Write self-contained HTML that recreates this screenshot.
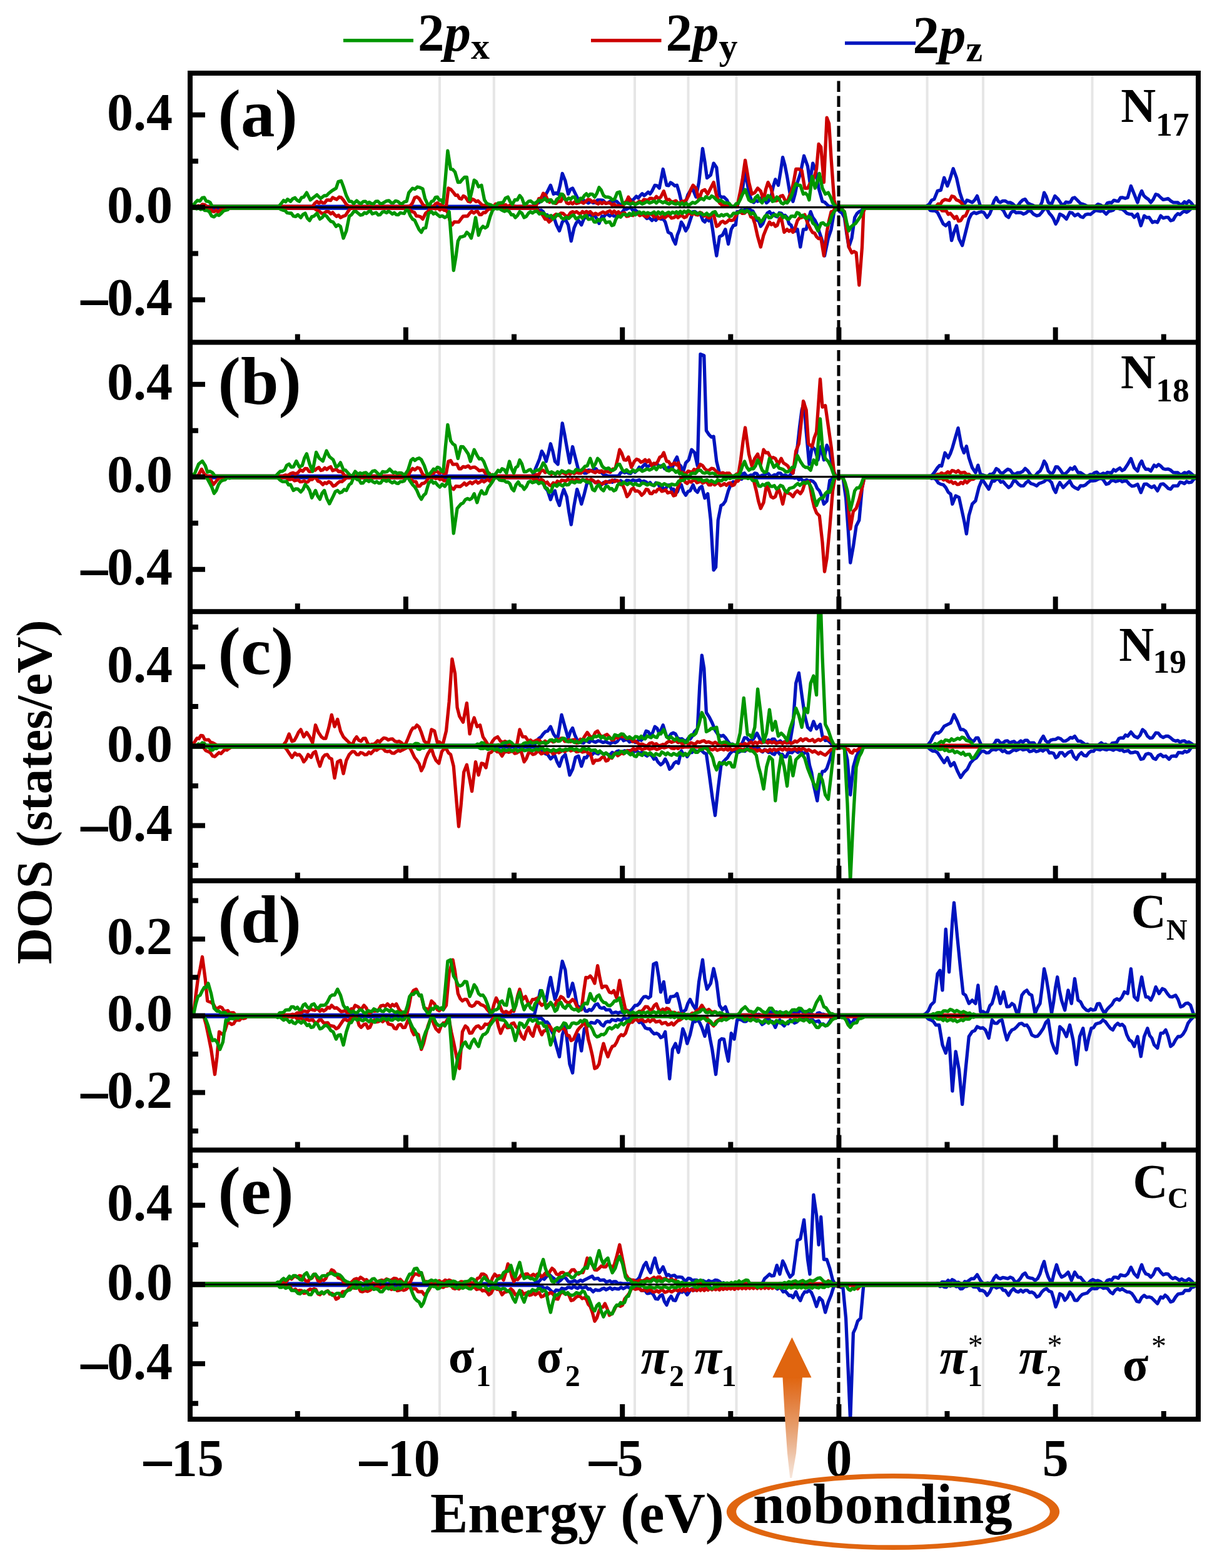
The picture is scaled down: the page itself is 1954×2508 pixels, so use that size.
<!DOCTYPE html><html><head><meta charset="utf-8"><style>html,body{margin:0;padding:0;background:#fff}svg{display:block}text{font-family:"Liberation Serif",serif;font-weight:bold}</style></head><body>
<svg width="1954" height="2508" viewBox="0 0 1954 2508">
<rect width="100%" height="100%" fill="#fff"/>
<defs><clipPath id="clp0"><rect x="304" y="117" width="1612" height="430.6"/></clipPath><clipPath id="clp1"><rect x="304" y="547.6" width="1612" height="430.6"/></clipPath><clipPath id="clp2"><rect x="304" y="978.2" width="1612" height="430.5999999999999"/></clipPath><clipPath id="clp3"><rect x="304" y="1408.8" width="1612" height="430.60000000000014"/></clipPath><clipPath id="clp4"><rect x="304" y="1839.4" width="1612" height="430.5999999999999"/></clipPath></defs>
<line x1="703" y1="117" x2="703" y2="2270" stroke="#e6e6e6" stroke-width="4"/>
<line x1="789.8" y1="117" x2="789.8" y2="2270" stroke="#e6e6e6" stroke-width="4"/>
<line x1="1015" y1="117" x2="1015" y2="2270" stroke="#e6e6e6" stroke-width="4"/>
<line x1="1100.5" y1="117" x2="1100.5" y2="2270" stroke="#e6e6e6" stroke-width="4"/>
<line x1="1177.5" y1="117" x2="1177.5" y2="2270" stroke="#e6e6e6" stroke-width="4"/>
<line x1="1482.6" y1="117" x2="1482.6" y2="2270" stroke="#e6e6e6" stroke-width="4"/>
<line x1="1572" y1="117" x2="1572" y2="2270" stroke="#e6e6e6" stroke-width="4"/>
<line x1="1746.5" y1="117" x2="1746.5" y2="2270" stroke="#e6e6e6" stroke-width="4"/>
<g clip-path="url(#clp0)">
<path d="M308.0,333.0 312.0,333.0 683.0,333.0 687.0,333.0 690.0,333.0 694.0,333.0 850.5,333.0 854.5,333.0 858.0,332.2 861.6,336.8 865.1,336.0 868.6,338.6 871.7,344.1 874.9,343.6 878.0,348.0 881.5,348.7 885.1,345.7 889.8,359.8 894.5,369.2 899.2,355.1 903.9,350.4 908.6,359.8 913.3,385.6 918.0,364.5 921.5,356.5 925.0,352.7 929.7,359.8 934.4,348.0 937.6,348.2 940.7,343.5 943.8,343.3 947.0,346.4 950.1,343.9 953.2,348.0 957.9,357.4 962.6,345.7 965.8,346.6 968.9,342.1 972.0,343.3 975.2,345.5 978.3,342.7 981.4,345.7 984.9,345.5 988.5,340.2 992.0,342.8 995.5,338.6 998.7,334.4 1001.8,334.8 1004.9,333.0 1008.4,331.7 1012.0,336.8 1015.5,335.7 1019.0,338.6 1022.9,342.6 1026.9,341.4 1030.8,345.7 1034.3,349.5 1037.8,348.0 1042.5,352.7 1045.7,349.2 1048.8,352.4 1051.9,348.0 1056.6,350.4 1060.2,350.1 1063.7,355.1 1068.4,371.5 1073.1,373.9 1076.6,383.6 1080.1,390.3 1083.2,375.7 1086.3,368.0 1089.4,355.1 1092.9,360.7 1096.5,369.2 1100.0,363.3 1103.5,352.7 1108.2,338.6 1111.3,338.5 1114.5,341.5 1117.6,341.0 1120.7,344.2 1123.9,352.4 1127.0,355.1 1130.1,350.0 1133.3,353.2 1136.4,348.0 1139.5,367.1 1142.7,390.1 1145.8,409.1 1150.5,378.6 1155.2,376.2 1159.9,366.8 1164.6,390.3 1169.3,366.8 1172.8,360.6 1176.4,359.8 1178.7,338.6 1181.8,338.6 1185.0,336.0 1188.1,336.3 1191.2,335.5 1194.4,332.4 1197.5,333.0 1200.6,336.5 1203.8,337.6 1206.9,343.3 1210.0,352.1 1213.2,353.4 1216.3,362.1 1219.8,357.8 1223.4,348.0 1226.9,341.0 1230.4,338.6 1233.5,342.6 1236.7,341.3 1239.8,345.7 1242.9,346.7 1246.1,340.5 1249.2,341.0 1252.3,344.9 1255.5,344.4 1258.6,348.0 1261.7,357.9 1264.9,359.9 1268.0,369.2 1271.5,369.8 1275.1,366.8 1279.8,395.0 1284.5,366.8 1289.2,366.8 1292.7,350.4 1296.2,338.6 1299.7,347.9 1303.3,352.7 1306.8,360.0 1310.3,371.5 1315.0,385.6 1318.5,409.1 1324.4,380.9 1329.1,366.8 1333.8,338.6 1338.5,333.0 1342.4,338.3 1346.4,340.8 1350.3,348.0 1353.8,373.5 1357.3,395.0 1362.0,380.9 1366.7,348.0 1370.2,341.8 1373.8,338.6 1377.3,336.9 1380.8,333.0 1384.8,333.0 1476.6,333.0 1480.6,333.0 1484.1,332.3 1487.6,336.7 1491.2,337.2 1495.1,336.8 1499.1,339.8 1504.4,350.4 1508.3,358.2 1512.3,361.0 1517.6,355.7 1521.6,384.7 1525.5,371.5 1529.5,361.0 1533.5,382.1 1538.7,392.7 1544.0,371.5 1549.3,350.4 1553.3,342.6 1557.3,339.8 1561.2,341.5 1565.2,339.8 1569.2,338.7 1573.1,339.8 1578.4,347.7 1582.4,342.4 1586.3,333.0 1596.9,333.0 1600.9,333.5 1604.8,337.2 1608.8,345.1 1612.8,347.7 1616.7,339.9 1620.7,337.2 1624.7,340.3 1628.6,339.8 1632.6,340.1 1636.6,342.4 1640.5,340.8 1644.5,337.2 1648.5,337.8 1652.4,342.4 1657.7,345.1 1661.7,344.2 1665.7,339.8 1669.6,334.4 1673.6,333.0 1677.6,340.9 1681.5,345.1 1684.8,350.4 1688.1,358.3 1691.4,352.5 1694.7,342.4 1700.0,345.1 1705.3,350.4 1710.6,339.8 1714.6,340.7 1718.5,345.1 1723.8,342.4 1727.8,346.4 1731.8,347.7 1735.7,343.3 1739.7,342.4 1743.7,343.0 1747.6,339.8 1751.6,336.6 1755.6,337.2 1759.5,337.9 1763.5,337.2 1768.8,342.4 1772.7,338.2 1776.7,337.2 1780.2,336.1 1783.8,331.9 1787.3,333.0 1790.8,334.2 1794.3,334.6 1797.9,337.2 1801.8,341.2 1805.8,342.4 1809.8,342.7 1813.7,347.7 1819.0,342.4 1824.3,361.0 1829.6,345.1 1833.6,348.1 1837.5,347.7 1842.8,355.7 1846.8,354.2 1850.8,355.7 1856.0,345.1 1860.0,348.9 1864.0,347.7 1867.9,347.7 1871.9,353.0 1875.9,351.8 1879.8,345.1 1883.4,341.8 1886.9,343.2 1890.4,339.8 1893.9,337.8 1897.5,339.5 1901.0,337.2 1905.0,333.3 1908.9,333.0 1911.9,333.0 1912.0,333.0" fill="none" stroke="#0014be" stroke-width="5.3" stroke-linejoin="round"/>
<path d="M308.0,330.2 312.0,330.2 683.0,330.2 687.0,330.2 690.0,330.2 694.0,330.2 848.2,330.2 852.2,330.2 855.7,326.4 859.2,324.5 862.3,323.9 865.5,316.1 868.6,315.1 872.1,312.2 875.7,305.7 880.4,296.3 885.1,310.4 888.6,308.7 892.1,310.4 895.6,296.4 899.2,277.5 903.9,289.3 908.6,310.4 912.1,302.9 915.6,301.0 920.3,310.4 925.0,319.8 928.9,322.3 932.9,320.2 936.8,322.2 940.7,324.9 944.6,322.2 948.5,324.5 952.0,323.8 955.6,319.8 960.3,319.8 964.2,320.4 968.1,324.6 972.0,324.5 975.5,322.1 979.1,324.7 982.6,321.4 986.1,322.2 990.8,326.9 994.0,327.6 997.1,324.5 1000.2,324.5 1003.7,324.6 1007.3,318.5 1010.8,321.4 1014.3,317.5 1017.5,314.0 1020.6,316.8 1023.7,312.8 1026.9,309.7 1030.0,312.8 1033.1,310.4 1036.3,307.3 1039.4,310.1 1042.5,305.7 1047.2,296.3 1050.8,297.0 1054.3,301.0 1060.2,270.5 1066.0,296.3 1069.2,296.9 1072.3,292.0 1075.4,294.0 1079.0,297.3 1082.5,296.3 1085.9,307.4 1089.4,322.2 1092.9,323.7 1096.5,322.2 1100.0,311.4 1103.5,305.7 1108.2,303.4 1112.9,315.1 1117.6,291.6 1123.5,237.6 1127.0,258.7 1130.5,284.6 1136.4,279.9 1141.1,261.1 1145.8,268.1 1150.5,312.8 1154.0,315.4 1157.6,315.1 1162.3,319.8 1167.0,330.2 1178.7,330.2 1182.2,319.8 1185.8,312.8 1191.6,272.8 1197.5,308.1 1202.2,322.2 1205.3,323.9 1208.5,320.3 1211.6,322.2 1215.1,320.2 1218.7,315.1 1222.2,317.6 1225.7,324.5 1229.2,321.3 1232.8,315.1 1236.3,298.8 1239.8,286.9 1244.5,296.3 1248.0,275.5 1251.6,251.7 1255.1,264.3 1258.6,282.2 1263.3,310.4 1268.0,322.2 1271.5,309.6 1275.1,291.6 1279.8,277.5 1285.6,249.3 1291.5,265.8 1295.0,291.6 1299.7,261.1 1304.4,272.8 1309.1,301.0 1315.0,322.2 1318.5,323.2 1322.1,326.9 1325.6,330.1 1329.1,330.2 1336.2,330.2 1340.2,330.2 1476.6,330.2 1480.6,330.2 1485.9,326.6 1489.8,320.2 1493.8,318.6 1499.1,305.4 1504.4,304.1 1509.7,284.3 1514.9,297.5 1518.9,286.9 1524.2,269.7 1529.5,284.3 1534.8,308.1 1540.1,323.9 1543.2,324.9 1546.2,320.1 1549.3,321.3 1554.6,323.9 1558.6,319.9 1562.5,313.4 1567.8,330.2 1575.8,330.2 1586.3,330.2 1589.6,321.2 1593.0,316.0 1596.3,322.1 1599.6,323.9 1603.5,321.3 1607.5,321.3 1611.5,324.1 1615.4,323.9 1619.4,326.1 1623.4,330.2 1627.3,329.5 1631.3,323.9 1635.3,320.0 1639.2,318.6 1643.2,324.5 1647.2,326.6 1651.1,328.2 1655.1,330.2 1663.0,330.2 1666.3,322.8 1669.6,308.1 1672.9,314.0 1676.2,323.9 1681.5,326.6 1686.8,313.4 1692.1,318.6 1697.4,326.6 1700.9,327.6 1704.4,323.2 1708.0,323.9 1711.5,323.4 1715.0,317.1 1718.5,316.0 1723.8,321.3 1727.8,325.5 1731.8,326.6 1735.7,328.3 1739.7,330.2 1747.6,330.2 1751.6,329.9 1755.6,326.6 1759.5,327.7 1763.5,330.2 1767.0,330.3 1770.5,324.8 1774.1,323.9 1777.6,324.3 1781.1,320.3 1784.6,321.3 1788.2,321.8 1791.7,316.2 1795.2,316.0 1799.2,317.3 1803.2,316.0 1808.4,297.5 1813.7,310.7 1819.0,323.9 1822.3,312.8 1825.6,305.4 1828.9,312.8 1832.2,316.0 1836.2,318.7 1840.2,323.9 1844.1,318.9 1848.1,310.7 1852.1,312.1 1856.0,316.0 1860.0,319.4 1864.0,318.6 1867.9,317.6 1871.9,321.3 1875.9,323.8 1879.8,323.9 1883.4,324.0 1886.9,327.3 1890.4,326.6 1893.9,322.8 1897.5,325.2 1901.0,321.3 1905.0,324.7 1908.9,330.2 1911.9,330.2 1912.0,330.2" fill="none" stroke="#0014be" stroke-width="5.3" stroke-linejoin="round"/>
<path d="M308.0,333.0 329.9,333.0 332.9,333.0 336.0,332.3 339.2,337.7 342.3,338.7 345.4,336.1 348.6,338.9 351.7,336.3 354.8,333.1 358.0,334.4 361.1,333.0 365.1,333.0 498.1,333.0 502.1,333.0 506.8,336.3 510.3,337.6 513.9,341.0 517.8,341.4 521.7,338.3 525.6,338.7 528.8,342.0 531.9,339.8 535.0,343.4 538.2,346.2 541.3,344.2 544.4,348.1 549.1,345.7 552.6,344.4 556.2,338.7 559.7,334.0 563.2,333.0 567.2,333.0 648.5,333.0 652.5,333.0 656.1,336.5 659.6,338.7 662.7,339.7 665.8,345.5 669.0,345.7 672.5,346.8 676.0,350.4 680.7,341.0 684.3,338.4 687.8,333.0 690.0,333.0 693.4,333.0 696.7,334.2 700.1,332.7 703.4,335.8 706.8,333.3 710.1,336.4 713.5,336.3 716.6,341.5 719.8,354.6 722.9,359.8 726.4,355.0 730.0,355.1 733.5,355.2 737.0,350.4 740.5,346.0 744.1,345.7 747.6,345.8 751.1,341.0 754.2,338.1 757.4,340.7 760.5,338.6 763.6,338.1 766.8,343.3 769.9,343.3 773.0,339.8 776.2,340.0 779.3,336.3 782.4,333.9 785.6,334.7 788.7,333.0 792.7,333.0 850.5,333.0 854.5,333.0 858.0,332.6 861.6,339.9 865.1,340.2 868.6,345.7 871.7,350.7 874.9,350.5 878.0,355.1 881.5,352.1 885.1,345.7 889.0,342.7 892.9,344.7 896.8,341.0 900.7,341.5 904.6,345.4 908.6,345.7 912.1,340.4 915.6,338.6 918.8,340.3 921.9,338.5 925.0,341.0 928.2,342.2 931.3,338.3 934.4,340.9 937.6,338.2 940.7,340.6 943.8,338.6 948.5,343.3 952.4,341.2 956.4,343.5 960.3,341.0 964.2,339.0 968.1,341.1 972.0,338.6 975.4,337.1 978.7,341.2 982.1,337.5 985.5,341.5 988.8,338.8 992.2,342.6 995.5,341.0 998.7,340.3 1001.8,346.0 1004.9,345.7 1008.4,342.8 1012.0,344.8 1015.5,340.9 1019.0,341.0 1022.9,344.8 1026.9,342.9 1030.8,345.7 1034.7,347.1 1038.6,342.2 1042.5,343.3 1046.1,347.3 1049.6,343.2 1053.1,349.6 1056.6,348.0 1059.8,345.9 1062.9,348.4 1066.0,345.7 1069.9,344.3 1073.9,348.9 1077.8,348.0 1080.9,345.2 1084.0,348.2 1087.1,345.7 1090.6,344.8 1094.1,348.0 1097.2,346.8 1100.4,341.4 1103.5,341.0 1106.6,343.3 1109.8,341.1 1112.9,343.3 1116.0,344.0 1119.2,339.7 1122.3,341.0 1125.4,345.6 1128.6,343.7 1131.7,348.0 1134.8,348.7 1138.0,343.1 1141.1,343.3 1145.8,362.1 1149.3,360.2 1152.9,355.1 1156.0,353.9 1159.1,356.8 1162.3,355.1 1165.8,351.6 1169.3,352.7 1172.8,352.0 1176.4,345.7 1179.9,339.8 1183.4,338.6 1186.9,341.3 1190.5,341.0 1194.0,337.7 1197.5,338.6 1200.6,346.9 1203.8,348.4 1206.9,357.4 1211.6,378.6 1216.3,395.0 1221.0,376.2 1225.7,364.5 1230.4,355.1 1233.5,359.4 1236.7,357.2 1239.8,362.1 1242.9,360.4 1246.1,351.0 1249.2,348.0 1253.9,371.5 1258.6,366.8 1261.7,369.9 1264.9,367.6 1268.0,371.5 1271.5,364.3 1275.1,352.7 1278.6,348.5 1282.1,348.0 1286.8,343.3 1291.5,357.4 1296.2,366.8 1299.3,371.9 1302.5,372.7 1305.6,378.6 1309.1,381.7 1312.7,380.9 1317.4,409.1 1322.1,371.5 1325.6,353.1 1329.1,338.6 1332.3,338.0 1335.4,332.5 1338.5,333.0 1342.4,335.5 1346.4,334.5 1350.3,338.6 1353.8,369.4 1357.3,395.0 1362.0,404.4 1365.5,402.3 1369.1,404.4 1373.8,456.1 1378.5,395.0 1380.8,338.6 1383.2,333.0 1387.2,333.0 1492.4,333.0 1496.4,333.0 1499.7,334.5 1503.1,333.0 1506.4,337.2 1509.7,337.2 1513.0,337.2 1516.3,342.8 1519.6,341.1 1522.9,345.1 1526.2,349.4 1529.5,346.2 1532.8,353.6 1536.1,353.0 1540.1,346.3 1544.0,345.1 1549.3,333.0 1552.3,333.0 1556.3,333.0 1908.0,333.0 1912.0,333.0" fill="none" stroke="#cc0000" stroke-width="5.3" stroke-linejoin="round"/>
<path d="M308.0,330.2 311.1,330.2 314.1,330.2 317.2,329.1 320.4,330.1 323.5,326.9 327.4,327.4 331.3,331.4 335.3,330.2 339.3,330.2 495.8,330.2 499.8,330.2 503.3,325.2 506.8,322.2 509.9,325.1 513.1,322.4 516.2,324.6 519.3,324.4 522.5,320.0 525.6,319.9 528.8,320.6 531.9,315.9 535.0,317.5 538.5,319.0 542.1,315.2 545.6,315.9 549.1,319.9 553.8,326.9 557.8,330.2 648.5,330.2 652.5,330.2 656.1,329.2 659.6,324.6 663.1,316.3 666.6,314.9 670.2,317.5 676.0,326.9 679.2,329.7 682.3,328.8 685.4,330.2 690.0,330.2 693.1,330.3 696.3,326.1 699.4,324.5 702.9,327.3 706.5,327.2 710.0,331.2 713.5,330.2 717.0,301.0 721.1,303.2 725.3,308.1 728.4,312.5 731.5,312.0 734.7,317.5 737.8,318.3 740.9,313.4 744.1,315.1 748.8,322.2 751.9,323.0 755.0,318.4 758.2,319.8 761.3,322.6 764.4,321.3 767.6,324.5 771.5,328.5 775.4,328.4 779.3,330.2 782.6,330.2 785.9,328.9 789.2,330.2 792.5,326.2 795.8,326.9 799.0,328.8 802.2,326.7 805.4,328.9 808.6,327.4 811.8,330.6 815.0,328.5 818.2,331.4 821.4,329.5 824.6,330.2 827.8,330.5 831.0,330.2 854.5,330.2 858.0,327.8 861.6,317.6 865.1,317.5 868.6,309.2 872.1,311.7 875.7,319.8 878.8,323.5 881.9,320.9 885.1,324.5 889.0,325.5 892.9,321.9 896.8,322.2 901.5,312.8 906.2,324.5 909.3,325.8 912.5,323.6 915.6,326.1 918.8,323.0 921.9,325.6 925.0,324.5 928.9,322.8 932.9,325.0 936.8,322.2 940.3,318.9 943.8,319.8 947.0,323.1 950.1,321.2 953.2,324.5 956.4,326.3 959.5,323.2 962.6,325.7 965.8,323.4 968.9,325.6 972.0,324.5 975.4,324.7 978.7,328.0 982.1,326.3 985.5,330.0 988.8,328.7 992.2,330.2 995.5,330.2 998.7,324.7 1001.8,322.0 1004.9,315.1 1009.6,324.5 1012.8,323.5 1015.9,326.2 1019.0,324.5 1022.5,321.8 1026.1,323.7 1029.6,319.2 1033.1,319.8 1036.3,320.4 1039.4,317.2 1042.5,317.5 1046.1,318.9 1049.6,314.3 1053.1,317.9 1056.6,315.1 1061.3,305.7 1066.0,319.8 1069.9,319.0 1073.9,323.3 1077.8,322.2 1080.9,321.1 1084.0,324.9 1087.1,324.5 1090.6,321.8 1094.1,322.2 1097.6,319.5 1101.2,312.8 1104.7,302.9 1108.2,296.3 1112.9,301.0 1117.6,319.8 1122.3,305.7 1127.0,303.4 1131.7,310.4 1136.4,301.0 1141.1,291.6 1145.8,312.8 1150.5,324.5 1154.4,328.1 1158.3,327.8 1162.3,330.2 1178.7,330.2 1183.4,308.1 1187.5,285.0 1191.6,256.4 1197.5,291.6 1202.2,310.4 1206.9,308.1 1211.6,301.0 1216.3,305.7 1221.0,319.8 1224.5,302.9 1228.1,291.6 1232.8,301.0 1237.5,319.8 1241.0,321.2 1244.5,319.8 1248.0,313.9 1251.6,312.8 1255.1,319.9 1258.6,324.5 1262.1,313.8 1265.7,305.7 1269.2,290.2 1272.7,270.5 1277.4,270.5 1282.1,272.8 1286.8,301.0 1291.5,301.0 1295.0,293.5 1298.6,291.6 1302.1,282.5 1305.6,270.5 1309.1,230.5 1312.7,235.2 1317.4,291.6 1322.1,188.2 1325.6,197.6 1329.1,254.0 1333.8,319.8 1336.2,330.2 1340.2,330.2 1492.4,330.2 1496.4,330.2 1500.0,326.2 1503.5,326.8 1507.0,321.3 1511.0,319.2 1514.9,320.0 1518.5,320.6 1522.0,313.8 1525.5,314.7 1529.5,319.8 1533.5,321.3 1537.4,324.6 1541.4,330.2 1544.4,330.2 1548.4,330.2 1908.0,330.2 1912.0,330.2" fill="none" stroke="#cc0000" stroke-width="5.3" stroke-linejoin="round"/>
<path d="M308.0,333.0 311.2,333.0 314.4,334.0 317.7,332.9 320.9,335.1 324.1,333.8 327.3,336.5 330.6,336.3 334.5,338.3 338.4,345.6 342.3,346.9 346.2,343.1 350.1,344.6 354.1,341.0 357.6,337.2 361.1,336.3 364.2,335.4 367.4,332.1 370.5,333.0 374.5,333.0 441.7,333.0 445.7,333.0 449.2,335.0 452.8,336.3 455.9,336.8 459.0,340.4 462.2,341.0 465.7,340.9 469.2,345.7 472.7,346.4 476.3,343.4 481.0,348.1 484.5,343.0 488.0,341.0 491.5,349.2 495.1,352.8 498.6,346.6 502.1,345.7 506.8,341.0 511.5,350.4 515.0,348.1 518.6,343.4 522.1,345.7 525.6,350.4 529.1,354.2 532.7,355.1 537.4,362.2 540.9,359.7 544.4,362.2 549.1,381.0 553.8,369.2 558.5,345.7 562.0,343.5 565.6,338.7 569.1,338.1 572.6,341.0 576.1,344.1 579.7,343.4 582.8,340.1 585.9,341.5 589.1,338.7 592.2,337.3 595.3,342.1 598.5,341.0 601.6,340.1 604.7,343.8 607.9,343.4 611.4,339.1 614.9,338.7 618.1,340.3 621.2,337.9 624.3,339.8 627.5,342.4 630.6,340.3 633.7,343.4 636.9,343.6 640.0,340.4 643.1,341.0 646.3,341.5 649.4,335.9 652.5,336.3 656.1,345.1 659.6,350.4 663.1,352.4 666.6,359.8 670.2,367.4 673.7,371.6 677.2,365.1 680.7,364.5 685.4,341.0 690.0,338.6 693.1,342.2 696.3,340.2 699.4,343.3 703.3,346.4 707.2,345.3 711.2,348.0 714.7,345.9 718.2,338.6 721.7,384.3 725.3,432.6 728.8,411.8 732.3,385.6 735.8,379.2 739.4,378.6 742.9,377.3 746.4,371.5 749.9,374.7 753.5,380.9 757.0,367.2 760.5,348.0 765.2,376.2 768.7,366.2 772.3,362.1 775.8,364.6 779.3,362.1 784.0,345.7 787.5,336.8 791.1,333.0 795.0,334.2 798.9,333.7 802.8,336.3 806.7,338.0 810.6,336.3 814.6,338.6 817.7,343.6 820.8,343.4 824.0,348.0 827.5,344.6 831.0,338.6 834.5,341.0 838.1,348.0 841.6,346.1 845.1,341.0 848.2,338.7 851.4,340.7 854.5,338.6 858.4,337.4 862.3,342.2 866.3,341.0 870.2,341.5 874.1,345.5 878.0,345.7 881.1,344.8 884.3,350.1 887.4,348.0 890.9,343.2 894.5,343.3 898.0,348.6 901.5,350.4 905.4,347.2 909.3,349.6 913.3,345.7 917.2,343.9 921.1,350.0 925.0,348.0 928.2,345.5 931.3,349.1 934.4,345.7 937.6,344.8 940.7,350.9 943.8,350.4 947.0,349.0 950.1,355.1 953.2,355.1 956.4,351.0 959.5,353.3 962.6,350.4 965.8,350.4 968.9,356.3 972.0,355.1 975.2,355.0 978.3,360.8 981.4,359.8 984.9,350.4 988.5,345.7 992.4,347.2 996.3,342.5 1000.2,343.3 1003.4,344.4 1006.5,341.2 1009.6,344.3 1012.8,339.9 1015.9,343.7 1019.0,341.0 1022.4,339.0 1025.7,342.0 1029.1,339.4 1032.5,342.0 1035.8,340.1 1039.2,341.9 1042.5,341.0 1045.9,339.0 1049.2,342.8 1052.6,339.0 1056.0,342.3 1059.3,339.3 1062.7,342.8 1066.0,341.0 1069.2,339.4 1072.3,342.2 1075.4,339.2 1078.5,341.1 1081.6,338.8 1084.8,341.8 1087.9,338.0 1091.0,341.4 1094.1,337.8 1097.3,340.2 1100.4,336.9 1103.5,338.6 1107.0,341.1 1110.6,338.9 1114.1,342.1 1117.6,341.0 1120.7,340.7 1123.9,343.6 1127.0,343.3 1130.1,341.1 1133.3,344.3 1136.4,343.3 1139.9,339.7 1143.5,338.6 1147.0,344.7 1150.5,345.7 1153.6,343.2 1156.8,345.3 1159.9,343.3 1163.0,342.8 1166.2,346.3 1169.3,345.7 1172.8,341.1 1176.4,341.0 1179.9,340.8 1183.4,338.6 1186.9,336.8 1190.5,339.8 1194.0,336.7 1197.5,338.6 1200.6,342.4 1203.8,340.4 1206.9,343.3 1210.0,348.9 1213.2,349.1 1216.3,355.1 1219.8,351.7 1223.4,345.7 1226.5,344.2 1229.6,348.4 1232.8,348.0 1236.3,344.5 1239.8,343.3 1242.9,345.7 1246.1,341.9 1249.2,343.3 1252.3,347.9 1255.5,346.0 1258.6,350.4 1261.7,350.6 1264.9,345.9 1268.0,345.7 1271.1,346.6 1274.3,340.0 1277.4,341.0 1280.5,346.1 1283.7,344.3 1286.8,348.0 1289.9,349.5 1293.1,345.8 1296.2,348.0 1299.7,356.9 1303.3,359.8 1308.0,369.2 1312.7,357.4 1316.2,356.4 1319.7,359.8 1323.2,359.9 1326.8,355.1 1330.3,344.4 1333.8,338.6 1338.5,333.0 1342.4,335.0 1346.4,334.9 1350.3,338.6 1353.8,355.6 1357.3,369.2 1360.8,362.8 1364.4,359.8 1367.9,357.6 1371.4,352.7 1376.1,345.7 1380.8,333.0 1383.8,333.0 1387.8,333.0 1908.0,333.0 1912.0,333.0" fill="none" stroke="#009600" stroke-width="5.3" stroke-linejoin="round"/>
<path d="M308.0,330.2 311.8,324.6 315.7,320.5 319.6,321.6 323.5,316.3 326.6,316.0 329.8,321.8 332.9,322.2 336.0,323.8 339.2,329.9 342.3,330.2 346.3,330.2 441.7,330.2 445.7,330.2 450.4,324.6 453.5,320.6 456.7,322.8 459.8,318.7 464.5,322.2 468.0,318.0 471.6,316.3 475.1,320.4 478.6,322.2 482.1,316.1 485.7,315.2 490.4,308.1 496.2,319.9 502.1,315.2 506.8,311.6 512.7,317.5 518.6,312.8 522.1,313.0 525.6,309.3 531.5,304.6 537.4,301.1 540.9,290.5 545.6,289.3 549.1,298.7 553.8,312.8 558.5,322.2 562.0,322.1 565.6,325.7 570.3,321.0 573.8,324.3 577.3,325.7 580.8,322.5 584.4,322.2 587.5,325.2 590.6,323.4 593.8,325.7 597.3,326.0 600.8,322.2 604.3,322.0 607.9,325.7 611.4,325.4 614.9,323.4 618.4,321.3 622.0,321.0 625.5,324.4 629.0,324.6 632.5,321.3 636.1,322.2 639.6,325.3 643.1,325.7 646.7,322.8 650.2,322.2 653.7,308.1 659.6,301.1 663.5,302.6 667.4,299.0 671.3,299.9 676.0,302.2 679.6,317.5 685.4,330.2 690.0,322.2 693.1,321.3 696.3,315.6 699.4,315.1 702.5,320.2 705.7,319.8 708.8,324.5 712.3,284.4 715.9,241.1 720.6,270.5 724.1,271.2 727.6,275.2 732.3,291.6 735.8,291.3 739.4,286.9 742.9,283.4 746.4,283.4 751.1,319.8 754.6,305.2 758.2,288.1 761.7,290.7 765.2,298.7 769.9,296.3 774.6,319.8 778.1,325.1 781.7,326.9 785.2,327.9 788.7,330.2 792.6,330.2 796.5,325.0 800.5,324.5 804.4,324.0 808.3,316.9 812.2,315.1 815.7,322.7 819.3,326.9 823.2,319.7 827.1,319.9 831.0,312.8 834.5,316.9 838.1,326.9 841.6,325.9 845.1,322.2 848.6,321.4 852.2,324.5 855.7,325.1 859.2,322.2 862.3,320.0 865.5,322.4 868.6,319.8 871.7,317.6 874.9,322.0 878.0,319.8 881.1,319.7 884.3,324.7 887.4,324.5 890.5,318.5 893.7,316.7 896.8,310.4 899.9,310.9 903.1,318.6 906.2,319.8 909.3,316.8 912.5,318.8 915.6,315.1 918.8,315.1 921.9,322.1 925.0,322.2 928.2,317.2 931.3,317.9 934.4,312.8 937.6,309.9 940.7,313.8 943.8,310.4 947.3,310.6 950.9,315.1 954.4,309.4 957.9,299.8 961.4,304.2 965.0,312.8 968.5,315.2 972.0,315.1 975.5,316.2 979.1,319.8 983.0,318.0 986.9,308.2 990.8,306.9 995.5,324.5 998.7,326.3 1001.8,324.1 1004.9,325.7 1008.4,326.6 1012.0,324.4 1015.5,327.5 1019.0,325.7 1022.9,323.6 1026.9,326.3 1030.8,324.5 1034.7,322.3 1038.6,324.8 1042.5,323.3 1046.1,321.5 1049.6,324.8 1053.1,320.9 1056.6,322.2 1059.8,324.4 1062.9,322.5 1066.0,324.5 1069.9,326.3 1073.9,323.4 1077.8,325.7 1081.0,326.6 1084.2,324.4 1087.4,327.7 1090.6,324.6 1093.9,327.9 1097.1,325.0 1100.3,328.0 1103.5,326.9 1107.4,323.7 1111.3,325.1 1115.3,322.2 1118.8,318.7 1122.3,317.5 1125.4,319.6 1128.6,314.7 1131.7,316.3 1134.8,317.4 1138.0,313.5 1141.1,315.1 1145.8,319.8 1148.9,322.2 1152.1,319.9 1155.2,322.2 1158.7,324.6 1162.3,324.5 1166.2,325.5 1170.1,330.7 1174.0,330.2 1177.1,325.8 1180.3,325.3 1183.4,319.8 1187.5,310.3 1191.6,303.4 1197.5,319.8 1201.0,322.3 1204.6,322.2 1208.1,315.9 1211.6,312.8 1215.1,320.9 1218.7,324.5 1221.8,317.8 1224.9,319.3 1228.1,312.8 1231.6,314.8 1235.1,322.2 1238.6,321.2 1242.2,315.1 1245.7,318.2 1249.2,324.5 1252.3,326.2 1255.5,323.0 1258.6,324.5 1262.1,320.0 1265.7,312.8 1269.2,302.1 1272.7,294.0 1276.2,296.4 1279.8,296.3 1284.5,310.4 1288.0,309.0 1291.5,312.8 1293.9,319.8 1298.6,282.2 1303.3,301.0 1306.8,290.9 1310.3,277.5 1315.0,301.0 1319.7,310.4 1324.4,308.1 1327.9,314.9 1331.5,324.5 1336.2,330.2 1340.2,330.2 1381.5,330.2 1385.5,330.2 1388.5,330.2 1392.5,330.2 1908.0,330.2 1912.0,330.2" fill="none" stroke="#009600" stroke-width="5.3" stroke-linejoin="round"/>
</g>
<line x1="304" y1="331.6" x2="1916" y2="331.6" stroke="#000" stroke-width="3.2"/>
<g clip-path="url(#clp1)">
<path d="M308.0,764.1 312.0,764.1 683.0,764.1 687.0,764.1 690.0,764.1 694.0,764.1 850.5,764.1 854.5,764.1 858.0,763.2 861.6,768.7 865.1,767.8 868.6,770.9 872.1,780.3 875.7,785.0 880.4,799.1 883.9,789.7 887.4,785.0 890.9,799.6 894.5,808.5 898.0,793.2 901.5,782.7 906.2,794.4 909.7,818.5 913.3,839.1 918.0,808.5 922.7,782.7 926.2,792.8 929.7,806.2 934.4,789.7 939.1,770.9 942.3,772.0 945.4,768.2 948.5,768.6 951.7,771.9 954.8,771.0 957.9,775.6 961.4,775.7 965.0,771.8 968.5,773.6 972.0,770.9 975.5,769.2 979.1,771.4 982.6,767.9 986.1,768.6 989.3,770.7 992.4,768.8 995.5,770.9 998.7,772.0 1001.8,768.5 1004.9,768.6 1008.4,769.9 1012.0,767.7 1015.5,769.4 1019.0,768.6 1022.5,767.6 1026.1,771.0 1029.6,769.4 1033.1,770.9 1036.3,774.4 1039.4,771.7 1042.5,775.6 1045.7,776.8 1048.8,772.3 1051.9,773.3 1055.1,779.0 1058.2,776.7 1061.3,782.7 1064.5,781.8 1067.6,776.2 1070.7,775.6 1073.9,783.3 1077.0,782.2 1080.1,789.7 1083.2,786.6 1086.3,777.9 1089.4,775.6 1092.9,786.6 1096.5,792.1 1100.0,786.3 1103.5,785.0 1108.2,775.6 1111.7,784.0 1115.3,787.4 1118.8,780.5 1122.3,778.0 1127.0,796.8 1131.7,789.7 1136.4,832.0 1141.1,911.9 1144.6,907.2 1148.2,832.0 1152.9,808.5 1156.4,806.6 1159.9,801.5 1164.6,785.0 1169.3,773.3 1172.4,770.5 1175.6,771.1 1178.7,768.6 1182.2,765.7 1185.8,766.5 1189.3,762.8 1192.8,764.1 1202.2,764.1 1221.0,764.1 1244.5,764.1 1268.0,764.1 1271.1,764.8 1274.3,763.5 1277.4,767.4 1280.5,765.5 1283.7,768.8 1286.8,768.6 1289.9,767.4 1293.1,769.5 1296.2,768.6 1299.7,769.7 1303.3,773.3 1306.8,781.3 1310.3,785.0 1313.8,792.9 1317.4,806.2 1322.1,801.5 1326.8,768.6 1330.3,766.4 1333.8,764.1 1347.9,764.1 1352.6,796.8 1356.1,845.6 1359.7,900.2 1364.4,874.3 1369.1,841.4 1373.8,832.0 1378.5,780.3 1382.0,764.1 1386.0,764.1 1481.9,764.1 1485.9,764.1 1489.4,765.3 1492.9,764.6 1496.4,766.6 1500.4,772.5 1504.4,774.5 1508.3,775.3 1512.3,779.8 1516.3,787.2 1520.2,790.4 1522.9,806.2 1528.2,793.0 1533.5,795.7 1538.7,819.5 1542.1,835.3 1545.4,853.8 1549.3,824.7 1554.6,806.2 1559.9,801.0 1565.2,779.8 1570.5,766.6 1575.8,774.5 1581.1,782.4 1586.3,769.2 1589.9,769.6 1593.4,766.1 1596.9,766.6 1600.4,771.3 1604.0,770.1 1607.5,774.5 1612.8,779.8 1616.7,776.9 1620.7,769.2 1624.7,769.9 1628.6,774.5 1632.6,777.2 1636.6,777.2 1640.5,772.1 1644.5,769.2 1648.5,773.5 1652.4,774.5 1657.7,777.2 1661.7,773.2 1665.7,771.9 1669.6,770.2 1673.6,766.6 1677.6,768.0 1681.5,771.9 1684.8,782.0 1688.1,787.7 1691.4,777.5 1694.7,771.9 1700.0,779.8 1705.3,774.5 1710.6,769.2 1714.6,776.8 1718.5,779.8 1723.8,782.4 1727.8,776.9 1731.8,777.2 1735.7,775.7 1739.7,771.9 1743.7,769.0 1747.6,769.2 1751.6,768.7 1755.6,766.6 1759.5,765.3 1763.5,766.6 1768.8,774.5 1772.7,773.4 1776.7,769.2 1780.2,768.3 1783.8,770.3 1787.3,769.2 1790.8,767.7 1794.3,770.5 1797.9,769.2 1801.8,769.6 1805.8,774.5 1809.8,777.5 1813.7,777.2 1819.0,774.5 1824.3,787.7 1829.6,774.5 1833.6,774.2 1837.5,777.2 1841.5,779.7 1845.5,777.2 1850.8,785.1 1856.0,774.5 1860.0,773.8 1864.0,777.2 1867.9,781.2 1871.9,782.4 1875.9,777.2 1879.8,777.2 1883.4,777.0 1886.9,771.1 1890.4,771.9 1893.9,773.5 1897.5,770.0 1901.0,771.9 1905.0,771.2 1908.9,766.6 1911.9,764.1 1912.0,764.1" fill="none" stroke="#0014be" stroke-width="5.3" stroke-linejoin="round"/>
<path d="M308.0,761.3 312.0,761.3 683.0,761.3 687.0,761.3 690.0,761.3 694.0,761.3 848.2,761.3 852.2,761.3 855.7,751.1 859.2,742.7 862.7,734.2 866.3,721.6 869.8,727.6 873.3,738.0 876.8,725.4 880.4,709.8 883.9,721.8 887.4,738.0 892.1,742.7 895.6,711.1 899.2,676.9 902.7,694.2 906.2,714.5 910.9,740.4 915.6,714.5 920.3,733.3 925.0,752.1 928.2,755.8 931.3,753.2 934.4,756.8 937.6,756.9 940.7,751.9 943.8,752.1 947.0,753.6 950.1,749.3 953.2,749.8 956.4,753.8 959.5,753.3 962.6,756.8 965.8,759.6 968.9,759.9 972.0,761.3 986.1,761.3 989.3,761.0 992.4,756.3 995.5,754.5 998.7,756.3 1001.8,754.8 1004.9,756.8 1008.4,757.4 1012.0,752.4 1015.5,755.4 1019.0,752.1 1022.2,747.3 1025.3,749.5 1028.4,745.1 1031.6,742.2 1034.7,746.5 1037.8,745.1 1041.0,742.9 1044.1,746.2 1047.2,742.7 1050.4,741.2 1053.5,745.9 1056.6,745.1 1059.8,744.8 1062.9,749.9 1066.0,749.8 1069.2,747.2 1072.3,750.0 1075.4,747.4 1079.0,737.3 1082.5,731.0 1085.6,742.2 1088.7,745.5 1091.8,756.8 1096.5,740.4 1101.2,735.7 1105.9,719.2 1110.6,723.9 1115.3,745.1 1120.0,566.5 1125.8,568.8 1129.4,688.7 1134.1,695.7 1137.6,699.1 1141.1,698.1 1145.8,738.0 1150.5,756.8 1153.6,757.6 1156.8,761.8 1159.9,761.3 1174.0,761.3 1183.4,761.3 1186.9,758.2 1190.5,756.8 1194.0,761.5 1197.5,761.3 1200.6,759.8 1203.8,760.2 1206.9,756.8 1210.0,757.3 1213.2,762.2 1216.3,761.3 1219.4,760.0 1222.6,760.1 1225.7,756.8 1228.8,757.8 1232.0,761.7 1235.1,761.3 1238.2,759.4 1241.4,760.2 1244.5,756.8 1248.0,756.9 1251.6,761.3 1255.1,759.8 1258.6,761.3 1261.7,762.0 1264.9,758.0 1268.0,756.8 1271.5,738.3 1275.1,714.5 1278.6,682.5 1282.1,655.8 1285.6,644.0 1289.2,691.0 1293.9,742.7 1298.6,714.5 1303.3,719.2 1308.0,735.7 1312.7,714.5 1317.4,735.7 1322.1,712.2 1326.8,721.6 1331.5,749.8 1336.2,761.3 1340.2,761.3 1481.9,761.3 1485.9,761.3 1489.8,761.0 1493.8,756.0 1499.1,748.1 1502.4,744.5 1505.7,745.4 1511.0,724.3 1516.3,732.2 1519.6,725.5 1522.9,716.3 1528.2,697.8 1532.1,684.6 1537.4,713.7 1541.4,724.3 1545.4,713.7 1549.3,732.2 1554.6,748.1 1559.9,756.0 1563.9,744.1 1567.8,758.6 1571.8,759.8 1575.8,761.3 1579.3,762.1 1582.8,758.7 1586.3,758.6 1589.6,755.9 1593.0,749.4 1596.3,751.4 1599.6,756.0 1603.5,756.8 1607.5,753.4 1611.5,750.5 1615.4,752.0 1619.4,757.5 1623.4,758.6 1627.3,756.1 1631.3,756.0 1635.3,754.2 1639.2,749.4 1643.2,752.7 1647.2,758.6 1651.1,762.1 1655.1,761.3 1659.1,756.3 1663.0,753.4 1666.3,747.1 1669.6,737.5 1672.9,742.6 1676.2,753.4 1681.5,758.6 1684.8,754.8 1688.1,746.7 1691.4,746.9 1694.7,750.7 1700.0,758.6 1704.0,757.4 1708.0,753.4 1711.5,748.8 1715.0,750.8 1718.5,746.7 1723.8,756.0 1727.8,755.8 1731.8,758.6 1735.7,761.4 1739.7,761.3 1743.2,758.9 1746.7,759.3 1750.3,756.0 1753.8,755.1 1757.3,758.8 1760.9,758.6 1764.2,756.9 1767.5,758.7 1770.8,755.5 1774.1,756.0 1777.4,756.4 1780.7,751.1 1784.0,753.3 1787.3,750.7 1790.8,748.6 1794.3,752.7 1797.9,750.7 1803.2,742.8 1808.4,733.5 1813.7,748.1 1819.0,753.4 1822.3,742.8 1825.6,737.5 1828.9,746.1 1832.2,750.7 1836.2,750.4 1840.2,753.4 1845.5,744.1 1849.0,746.4 1852.5,742.9 1856.0,745.4 1860.0,749.7 1864.0,750.7 1867.9,750.1 1871.9,752.0 1875.9,755.6 1879.8,756.0 1883.4,755.9 1886.9,759.0 1890.4,758.6 1893.9,755.8 1897.5,757.2 1901.0,754.7 1905.0,757.7 1908.9,761.3 1911.9,761.3 1912.0,761.3" fill="none" stroke="#0014be" stroke-width="5.3" stroke-linejoin="round"/>
<path d="M308.0,764.1 332.3,764.1 335.3,764.1 341.1,775.1 347.0,768.1 351.0,764.1 448.8,764.1 452.8,764.1 456.7,762.9 460.6,767.0 464.5,766.9 467.6,765.8 470.8,769.0 473.9,768.1 477.0,767.7 480.2,770.7 483.3,770.4 486.4,769.1 489.6,771.5 492.7,770.4 495.8,766.7 499.0,767.2 502.1,764.1 505.2,764.3 508.4,769.6 511.5,770.4 516.2,775.1 519.3,772.0 522.5,773.5 525.6,770.4 529.1,772.4 532.7,777.5 536.2,776.3 539.7,772.8 543.2,770.1 546.8,770.4 550.3,767.5 553.8,764.1 557.8,764.1 648.5,764.1 652.5,764.1 655.7,764.0 658.8,769.0 661.9,770.4 665.1,770.3 668.2,777.7 671.3,777.5 674.9,773.3 678.4,772.8 681.9,769.5 685.4,764.1 690.0,764.1 693.4,764.1 696.7,765.4 700.1,764.4 703.4,767.0 706.8,766.0 710.1,769.2 713.5,768.6 717.4,771.4 721.3,779.8 725.3,782.7 728.8,777.7 732.3,778.0 735.8,778.3 739.4,775.6 742.5,772.6 745.6,776.0 748.8,773.3 751.9,771.0 755.0,773.7 758.2,770.9 761.3,769.7 764.4,772.8 767.6,770.9 770.7,768.2 773.8,770.8 777.0,768.6 780.1,766.7 783.2,769.5 786.4,767.4 790.4,764.1 850.5,764.1 854.5,767.4 858.0,766.2 861.6,769.5 865.1,766.6 868.6,768.6 871.7,773.3 874.9,771.1 878.0,775.6 881.4,777.1 884.7,772.2 888.1,774.5 891.4,769.6 894.8,772.1 898.2,768.0 901.5,768.6 904.9,769.3 908.2,766.5 911.6,769.2 914.9,766.7 918.3,769.4 921.7,766.6 925.0,767.4 928.4,769.3 931.7,766.9 935.1,768.6 938.4,767.0 941.8,769.3 945.2,766.7 948.5,768.6 952.4,772.2 956.4,769.8 960.3,773.3 964.2,774.0 968.1,770.1 972.0,770.9 975.5,771.4 979.1,767.9 982.6,770.4 986.1,768.6 989.3,769.5 992.4,775.2 995.5,775.6 999.0,783.5 1002.6,794.4 1006.1,790.3 1009.6,782.7 1012.8,780.6 1015.9,785.6 1019.0,785.0 1022.5,787.1 1026.1,792.1 1029.6,788.9 1033.1,782.7 1036.3,783.4 1039.4,789.3 1042.5,789.7 1045.7,785.7 1048.8,786.8 1051.9,782.7 1055.1,781.8 1058.2,785.9 1061.3,785.0 1064.5,783.5 1067.6,788.4 1070.7,787.4 1073.9,787.1 1077.0,793.1 1080.1,792.1 1083.2,781.0 1086.3,773.9 1089.4,764.1 1092.5,764.2 1095.7,771.2 1098.8,773.3 1101.9,769.7 1105.1,771.2 1108.2,768.6 1111.3,767.9 1114.5,772.0 1117.6,770.9 1120.7,769.7 1123.9,772.7 1127.0,770.9 1130.1,770.6 1133.3,775.6 1136.4,775.6 1139.5,772.3 1142.7,775.6 1145.8,773.3 1148.9,772.3 1152.1,776.8 1155.2,775.6 1158.3,773.4 1161.5,776.3 1164.6,773.3 1167.7,772.2 1170.9,776.7 1174.0,775.6 1177.1,769.5 1180.3,769.5 1183.4,764.1 1192.8,764.1 1202.2,764.1 1205.7,770.9 1209.3,785.0 1212.8,801.8 1216.3,813.2 1221.0,803.8 1225.7,775.6 1229.2,783.0 1232.8,794.4 1236.3,796.4 1239.8,794.4 1244.5,780.3 1248.0,791.1 1251.6,806.2 1256.3,785.0 1259.8,788.7 1263.3,789.7 1268.0,794.4 1271.5,788.3 1275.1,785.0 1279.8,789.7 1283.3,784.5 1286.8,773.3 1290.3,771.0 1293.9,770.9 1298.6,796.8 1302.1,811.4 1305.6,820.3 1310.3,825.0 1315.0,867.3 1318.5,914.3 1322.1,893.1 1326.8,843.8 1331.5,785.0 1335.0,764.1 1347.9,764.1 1351.4,773.8 1355.0,789.7 1359.7,846.1 1364.4,817.9 1369.1,813.2 1373.8,799.1 1378.5,780.3 1382.0,764.1 1386.0,764.1 1495.1,764.1 1499.1,764.1 1502.3,765.8 1505.4,764.5 1508.6,767.7 1511.8,766.3 1514.9,769.2 1518.0,771.1 1521.1,769.9 1524.2,773.3 1527.3,771.5 1530.4,774.8 1533.5,774.5 1536.6,771.5 1539.8,773.5 1543.0,769.0 1546.2,772.2 1549.3,769.2 1552.8,766.3 1556.4,766.6 1559.9,764.1 1562.9,764.1 1566.9,764.1 1908.0,764.1 1912.0,764.1" fill="none" stroke="#cc0000" stroke-width="5.3" stroke-linejoin="round"/>
<path d="M308.0,761.3 313.5,761.3 316.5,761.3 322.3,750.4 327.0,758.7 331.0,761.3 448.8,761.3 452.8,761.3 456.7,759.8 460.6,760.5 464.5,757.5 468.4,756.2 472.3,758.0 476.3,756.3 480.2,751.5 484.1,753.8 488.0,749.3 491.1,749.7 494.3,754.2 497.4,754.0 500.5,750.3 503.7,752.2 506.8,749.3 509.9,747.7 513.1,752.5 516.2,751.6 519.3,748.2 522.5,751.0 525.6,748.1 528.8,746.6 531.9,752.7 535.0,751.6 538.2,750.7 541.3,754.3 544.4,754.0 547.6,755.5 550.7,760.7 553.8,761.3 557.8,761.3 648.5,761.3 652.5,761.3 656.1,754.1 659.6,749.3 663.5,751.6 667.4,748.0 671.3,749.3 676.0,758.7 679.2,761.1 682.3,760.2 685.4,761.3 690.0,756.8 693.1,757.3 696.3,753.6 699.4,754.5 702.9,757.0 706.5,754.0 710.0,757.6 713.5,756.8 717.0,738.0 720.6,736.6 724.1,742.9 727.6,742.7 730.7,742.5 733.9,749.8 737.0,749.8 740.5,746.3 744.1,747.4 748.8,745.1 752.3,748.9 755.8,747.4 759.3,747.1 762.9,749.8 766.4,752.9 769.9,752.1 773.0,752.2 776.2,757.1 779.3,756.8 782.4,757.0 785.6,762.1 788.7,761.3 807.5,761.3 811.5,761.3 850.5,761.3 854.5,761.3 858.0,759.1 861.6,758.9 865.1,752.9 868.6,752.1 871.7,755.8 874.9,753.5 878.0,756.8 881.4,758.4 884.7,756.1 888.1,758.5 891.4,755.3 894.8,758.2 898.2,755.1 901.5,756.8 904.9,758.5 908.2,756.0 911.6,758.4 914.9,755.3 918.3,757.7 921.7,755.3 925.0,756.8 928.9,756.9 932.9,752.5 936.8,752.1 940.7,754.9 944.6,752.6 948.5,754.5 951.9,756.0 955.2,753.1 958.6,755.6 961.9,753.0 965.3,755.8 968.7,753.4 972.0,754.5 975.9,755.3 979.9,750.2 983.8,749.8 987.3,735.7 990.8,719.2 994.3,725.4 997.9,735.7 1001.4,736.0 1004.9,731.0 1009.6,747.4 1014.3,738.0 1017.8,734.5 1021.4,735.7 1024.9,739.4 1028.4,738.0 1031.6,735.2 1034.7,738.9 1037.8,735.7 1042.5,745.1 1045.7,740.9 1048.8,742.0 1051.9,738.0 1055.1,731.2 1058.2,729.9 1061.3,723.9 1066.0,738.0 1069.2,738.2 1072.3,743.7 1075.4,742.7 1078.6,740.4 1081.7,743.7 1084.8,740.4 1087.1,756.8 1090.6,755.3 1094.1,756.8 1097.2,757.3 1100.4,753.6 1103.5,754.5 1106.6,755.7 1109.8,750.8 1112.9,752.1 1116.4,748.9 1120.0,742.7 1123.5,744.7 1127.0,749.8 1130.5,752.5 1134.1,752.1 1137.6,749.2 1141.1,749.8 1145.8,754.5 1149.3,756.8 1152.9,756.8 1156.0,756.1 1159.1,758.1 1162.3,756.8 1166.2,757.0 1170.1,761.8 1174.0,761.3 1177.5,758.5 1181.1,756.8 1184.6,734.4 1188.1,706.2 1191.6,684.0 1197.5,726.3 1202.2,745.1 1206.9,733.3 1211.6,726.3 1216.3,742.7 1221.0,719.2 1224.5,724.3 1228.1,723.9 1232.8,733.3 1236.3,731.6 1239.8,733.3 1244.5,742.7 1249.2,733.3 1252.7,740.4 1256.3,742.7 1259.8,745.3 1263.3,752.1 1268.0,756.8 1272.7,721.6 1277.4,709.8 1280.9,677.9 1284.5,641.7 1289.2,655.8 1292.7,709.8 1298.6,714.5 1302.1,699.9 1305.6,691.0 1311.5,606.4 1315.0,651.1 1319.7,648.7 1324.4,681.6 1329.1,714.5 1333.8,756.8 1336.2,761.3 1340.2,761.3 1495.1,761.3 1499.1,758.6 1502.4,759.1 1505.7,756.4 1509.0,758.7 1512.3,757.3 1515.6,754.7 1518.9,757.2 1522.2,752.7 1525.5,753.4 1528.8,755.4 1532.1,752.7 1535.4,756.3 1538.7,756.0 1542.3,755.4 1545.8,759.0 1549.3,758.6 1552.3,761.3 1556.3,761.3 1908.0,761.3 1912.0,761.3" fill="none" stroke="#cc0000" stroke-width="5.3" stroke-linejoin="round"/>
<path d="M308.0,764.1 330.6,764.1 335.3,772.8 338.8,779.5 342.3,789.2 345.8,784.6 349.4,775.1 352.9,770.0 356.4,768.1 359.9,767.5 363.5,763.7 367.0,764.9 370.5,764.1 374.5,764.1 437.0,764.1 441.0,764.1 444.5,764.6 448.1,768.1 451.6,770.4 455.1,770.4 458.2,770.1 461.4,775.6 464.5,775.1 469.2,784.5 472.7,781.9 476.3,782.2 481.0,786.9 484.5,782.8 488.0,775.1 491.5,778.6 495.1,784.5 498.6,796.3 504.5,784.5 508.0,793.6 511.5,798.6 515.0,789.0 518.6,784.5 522.7,797.6 526.8,805.7 532.7,793.9 536.2,786.4 539.7,784.5 543.2,788.2 546.8,786.9 550.3,782.9 553.8,784.5 558.5,775.1 561.7,773.0 564.8,765.2 567.9,764.1 571.1,767.2 574.2,767.7 577.3,772.8 580.5,772.5 583.6,768.6 586.7,768.1 589.9,770.2 593.0,767.8 596.1,770.4 599.3,772.2 602.4,770.3 605.5,772.8 608.7,772.6 611.8,768.1 614.9,768.1 618.1,769.8 621.2,767.7 624.3,770.4 627.5,772.4 630.6,770.3 633.7,772.8 636.9,773.4 640.0,770.3 643.1,770.4 646.3,769.3 649.4,764.3 652.5,764.1 656.1,770.0 659.6,775.1 663.1,778.6 666.6,784.5 670.2,793.1 673.7,798.6 677.2,792.5 680.7,789.2 685.4,772.8 690.0,768.6 693.1,772.9 696.3,771.5 699.4,775.6 703.3,779.1 707.2,774.6 711.2,778.0 714.7,773.1 718.2,764.1 721.7,806.3 725.3,853.2 731.1,813.2 737.0,806.2 740.5,804.6 744.1,799.1 747.6,797.5 751.1,799.1 754.6,796.7 758.2,789.7 762.9,803.8 766.4,792.1 769.9,785.0 773.4,790.0 777.0,789.7 780.5,780.2 784.0,775.6 787.5,770.5 791.1,764.1 795.0,763.5 798.9,767.9 802.8,768.6 805.9,768.5 809.1,771.0 812.2,770.9 815.3,773.7 818.5,781.7 821.6,785.0 825.1,775.5 828.7,770.9 831.8,776.5 834.9,777.4 838.1,782.7 841.6,778.3 845.1,770.9 848.2,769.8 851.4,772.0 854.5,770.9 858.0,769.9 861.6,773.6 865.1,771.4 868.6,773.3 871.7,780.3 874.9,781.1 878.0,787.4 881.1,786.3 884.3,776.6 887.4,775.6 890.5,777.7 893.7,774.0 896.8,775.6 899.9,777.4 903.1,773.8 906.2,775.6 909.3,775.1 912.5,770.9 915.6,770.9 918.8,772.4 921.9,769.9 925.0,770.9 928.2,771.1 931.3,767.6 934.4,768.6 937.9,771.0 941.5,770.9 944.6,773.5 947.7,783.2 950.9,785.0 954.4,778.0 957.9,775.6 961.4,782.0 965.0,785.0 968.5,778.5 972.0,778.0 975.2,782.2 978.3,781.4 981.4,785.0 984.6,783.5 987.7,775.8 990.8,773.3 994.0,774.6 997.1,771.2 1000.2,773.3 1003.4,775.1 1006.5,772.3 1009.6,773.3 1012.8,775.7 1015.9,773.2 1019.0,775.6 1022.9,776.6 1026.9,772.7 1030.8,773.3 1034.7,775.9 1038.6,773.7 1042.5,775.6 1046.4,776.3 1050.4,772.5 1054.3,773.3 1058.2,776.4 1062.1,773.7 1066.0,775.6 1069.9,777.7 1073.9,774.3 1077.8,775.6 1081.7,775.1 1085.5,769.3 1089.4,768.6 1092.9,768.3 1096.5,764.1 1100.0,765.3 1103.5,764.1 1106.9,764.1 1110.2,765.2 1113.6,764.4 1116.9,767.7 1120.3,765.5 1123.6,769.5 1127.0,768.6 1130.5,767.5 1134.1,770.6 1137.6,768.7 1141.1,770.9 1144.2,771.9 1147.4,767.7 1150.5,768.6 1153.9,769.0 1157.2,765.8 1160.6,767.3 1163.9,763.6 1167.3,765.4 1170.6,764.1 1174.0,764.1 1192.8,764.1 1196.3,765.4 1199.9,763.9 1203.4,768.7 1206.9,768.6 1210.0,769.1 1213.2,777.3 1216.3,778.0 1219.4,774.8 1222.6,776.3 1225.7,773.3 1228.8,772.9 1232.0,777.9 1235.1,778.0 1238.2,776.8 1241.4,781.9 1244.5,780.3 1248.0,776.3 1251.6,778.0 1255.1,784.9 1258.6,787.4 1262.1,781.2 1265.7,780.3 1269.2,779.3 1272.7,775.6 1275.8,773.3 1279.0,776.5 1282.1,773.3 1285.2,771.4 1288.4,773.2 1291.5,770.9 1295.0,775.5 1298.6,782.7 1302.1,796.9 1305.6,808.5 1309.1,799.8 1312.7,796.8 1316.2,796.2 1319.7,789.7 1323.2,786.2 1326.8,787.4 1330.3,776.5 1333.8,764.1 1347.9,764.1 1351.4,772.1 1355.0,785.0 1359.7,815.6 1363.2,801.9 1366.7,785.0 1370.2,780.3 1373.8,780.3 1377.3,773.9 1380.8,764.1 1383.8,764.1 1387.8,764.1 1908.0,764.1 1912.0,764.1" fill="none" stroke="#009600" stroke-width="5.3" stroke-linejoin="round"/>
<path d="M308.0,761.3 311.8,756.3 317.6,742.2 323.5,737.5 328.2,744.6 331.7,755.1 335.8,753.8 340.0,756.3 343.5,761.3 347.0,761.3 351.0,761.3 437.0,761.3 441.0,761.3 444.5,757.4 448.1,754.0 451.6,753.8 455.1,751.6 458.6,744.2 462.2,742.2 465.7,747.1 469.2,746.9 473.9,737.5 478.6,746.9 483.3,744.6 486.8,732.8 490.4,725.8 495.1,742.2 499.8,754.0 505.6,723.4 510.3,732.8 516.2,737.5 522.1,721.1 526.8,730.5 532.7,735.2 537.4,746.9 540.9,745.1 544.4,739.9 549.1,751.6 552.6,752.2 556.2,756.3 560.9,761.3 564.4,759.9 567.9,754.0 572.6,758.7 575.8,756.5 578.9,758.0 582.0,756.3 585.2,755.9 588.3,759.0 591.4,758.7 595.5,753.9 599.6,752.8 605.5,758.7 608.7,759.4 611.8,754.4 614.9,755.1 619.0,754.5 623.1,750.4 629.0,756.3 632.2,755.1 635.3,757.3 638.4,756.3 641.6,756.3 644.7,758.6 647.8,758.7 652.5,751.6 657.2,736.3 660.4,733.5 663.5,736.5 666.6,734.0 670.2,732.7 673.7,735.2 678.4,744.6 683.1,758.7 686.5,758.5 690.0,754.5 693.1,750.2 696.3,751.8 699.4,747.4 702.5,748.3 705.7,753.2 708.8,754.5 712.3,715.1 715.9,679.3 720.6,705.1 724.1,710.1 727.6,712.2 732.3,733.3 737.0,714.5 740.5,714.7 744.1,719.2 748.8,726.3 752.3,738.0 758.2,719.2 762.9,728.6 766.4,734.0 769.9,733.3 773.4,738.0 777.0,747.4 780.5,756.4 784.0,761.3 787.1,759.1 790.3,760.3 793.4,756.8 796.5,752.4 799.7,754.5 802.8,749.8 806.3,751.2 809.9,756.8 814.6,738.0 818.1,750.0 821.6,756.8 824.7,747.9 827.9,745.7 831.0,735.7 834.5,742.1 838.1,754.5 841.6,754.4 845.1,752.1 848.2,751.0 851.4,755.6 854.5,754.5 858.0,751.8 861.6,752.1 865.1,748.4 868.6,740.4 872.1,745.3 875.7,754.5 878.8,757.2 881.9,754.6 885.1,756.8 888.4,758.2 891.6,754.6 894.9,757.3 898.2,753.0 901.5,754.5 905.4,755.8 909.3,753.0 913.3,754.5 917.2,755.8 921.1,751.0 925.0,752.1 928.5,752.7 932.1,749.8 935.6,745.8 939.1,745.1 943.8,733.3 948.5,747.4 952.0,742.1 955.6,733.3 959.1,736.7 962.6,745.1 966.1,748.9 969.7,749.8 973.2,748.6 976.7,752.1 980.2,752.3 983.8,749.8 987.3,743.4 990.8,742.7 995.5,752.1 998.7,754.2 1001.8,751.5 1004.9,754.5 1008.4,755.7 1012.0,751.7 1015.5,754.3 1019.0,752.1 1022.9,750.3 1026.9,753.8 1030.8,752.1 1034.7,749.9 1038.6,751.9 1042.5,749.8 1046.1,747.2 1049.6,751.2 1053.1,745.9 1056.6,747.4 1061.3,742.7 1066.0,752.1 1069.9,753.1 1073.9,750.1 1077.8,752.1 1080.8,755.5 1083.8,753.0 1086.8,757.8 1089.8,756.3 1092.8,760.7 1095.8,759.4 1098.8,761.3 1101.9,761.7 1105.1,757.8 1108.2,756.8 1112.1,757.3 1116.0,752.6 1120.0,752.1 1123.5,756.1 1127.0,756.8 1130.9,755.2 1134.8,757.8 1138.8,756.8 1142.7,757.8 1146.6,762.4 1150.5,761.3 1174.0,761.3 1177.1,759.6 1180.3,760.3 1183.4,756.8 1186.9,746.2 1190.5,738.0 1194.0,746.9 1197.5,752.1 1201.0,749.7 1204.6,749.8 1208.1,745.1 1211.6,735.7 1215.1,742.5 1218.7,752.1 1222.2,755.5 1225.7,754.5 1230.4,733.3 1233.9,739.1 1237.5,747.4 1242.2,742.7 1245.7,748.8 1249.2,749.8 1252.7,751.1 1256.3,754.5 1259.8,754.5 1263.3,752.1 1266.8,747.3 1270.4,747.4 1275.1,728.6 1279.8,738.0 1284.5,745.1 1288.0,747.7 1291.5,747.4 1296.2,752.1 1300.9,735.7 1305.6,742.7 1311.5,669.9 1315.0,714.5 1319.7,733.3 1324.4,738.0 1329.1,747.4 1333.8,761.3 1336.8,761.3 1340.8,761.3 1908.0,761.3 1912.0,761.3" fill="none" stroke="#009600" stroke-width="5.3" stroke-linejoin="round"/>
</g>
<line x1="304" y1="762.7" x2="1916" y2="762.7" stroke="#000" stroke-width="3.2"/>
<g clip-path="url(#clp2)">
<path d="M308.0,1194.9 312.0,1194.9 847.5,1194.9 851.5,1194.9 854.5,1194.9 858.0,1194.6 861.6,1198.8 865.1,1198.6 868.6,1202.1 872.1,1205.7 875.7,1206.8 880.4,1213.9 883.9,1210.3 887.4,1209.2 890.9,1218.8 894.5,1225.6 899.2,1211.5 903.9,1206.8 907.4,1221.8 910.9,1239.7 915.6,1230.3 920.3,1211.5 925.0,1209.2 929.7,1225.6 934.4,1211.5 937.6,1212.0 940.7,1207.1 943.8,1206.8 947.0,1207.1 950.1,1203.6 953.2,1204.5 956.4,1205.9 959.5,1202.6 962.6,1204.5 965.8,1206.3 968.9,1204.4 972.0,1206.8 975.5,1207.3 979.1,1203.4 982.6,1205.8 986.1,1202.1 989.3,1201.0 992.4,1203.1 995.5,1202.1 999.0,1200.7 1002.6,1203.1 1006.1,1200.5 1009.6,1202.1 1012.8,1203.4 1015.9,1201.1 1019.0,1202.1 1022.9,1204.8 1026.9,1203.1 1030.8,1206.8 1034.7,1209.2 1038.6,1206.0 1042.5,1209.2 1045.7,1214.3 1048.8,1212.6 1051.9,1218.6 1056.6,1223.3 1060.2,1220.3 1063.7,1213.9 1067.2,1220.4 1070.7,1230.3 1074.3,1227.3 1077.8,1220.9 1081.3,1218.3 1084.8,1220.9 1089.4,1200.9 1092.5,1206.3 1095.7,1205.4 1098.8,1210.3 1103.5,1203.3 1106.6,1203.5 1109.8,1199.9 1112.9,1200.9 1116.0,1202.8 1119.2,1199.4 1122.3,1200.9 1125.8,1204.2 1129.4,1205.6 1134.1,1238.5 1138.8,1273.8 1143.5,1304.3 1148.2,1262.0 1152.9,1224.4 1156.4,1218.5 1159.9,1215.0 1163.4,1211.7 1167.0,1205.6 1170.5,1202.1 1174.0,1200.9 1177.5,1203.0 1181.1,1203.3 1184.6,1201.2 1188.1,1200.9 1191.2,1201.7 1194.4,1197.5 1197.5,1198.6 1200.6,1197.8 1203.8,1194.9 1206.9,1194.9 1210.0,1197.3 1213.2,1196.7 1216.3,1200.9 1219.4,1202.8 1222.6,1199.0 1225.7,1200.9 1228.8,1203.5 1232.0,1202.6 1235.1,1205.6 1238.2,1206.7 1241.4,1201.7 1244.5,1203.3 1247.6,1206.9 1250.8,1206.3 1253.9,1210.3 1257.0,1210.6 1260.2,1204.3 1263.3,1203.3 1266.4,1203.9 1269.6,1200.4 1272.7,1200.9 1275.8,1203.5 1279.0,1200.4 1282.1,1203.3 1285.2,1205.3 1288.4,1202.8 1291.5,1205.6 1294.6,1224.6 1297.8,1235.8 1300.9,1255.0 1306.8,1280.8 1310.3,1252.6 1315.0,1233.8 1318.5,1233.7 1322.1,1229.1 1326.8,1215.0 1331.5,1198.6 1335.0,1194.4 1338.5,1194.9 1350.3,1194.9 1355.0,1215.0 1359.7,1271.4 1364.4,1226.8 1369.1,1210.3 1373.8,1200.9 1378.5,1194.9 1382.5,1194.9 1479.2,1194.9 1483.2,1194.9 1487.2,1198.6 1491.2,1201.3 1495.1,1201.2 1499.1,1203.9 1504.4,1211.9 1509.7,1219.8 1514.9,1211.9 1520.2,1225.1 1525.5,1219.8 1530.8,1233.0 1536.1,1243.6 1541.4,1235.7 1546.7,1230.4 1552.0,1219.8 1557.3,1214.5 1561.2,1212.2 1565.2,1206.6 1569.2,1201.8 1573.1,1201.3 1577.1,1204.2 1581.1,1203.9 1585.0,1200.0 1589.0,1198.6 1592.5,1199.5 1596.0,1197.2 1599.6,1198.6 1603.1,1202.1 1606.6,1200.3 1610.1,1203.9 1614.1,1204.0 1618.1,1201.3 1621.6,1199.0 1625.1,1200.5 1628.6,1198.6 1632.2,1197.2 1635.7,1199.4 1639.2,1198.6 1642.7,1198.2 1646.3,1202.1 1649.8,1201.3 1653.3,1199.7 1656.8,1202.2 1660.4,1201.3 1663.9,1199.3 1667.4,1201.3 1671.0,1198.6 1674.5,1198.6 1678.0,1204.3 1681.5,1203.9 1684.8,1205.1 1688.1,1211.9 1691.4,1209.9 1694.7,1203.9 1698.7,1204.0 1702.7,1209.2 1708.0,1203.9 1713.3,1201.3 1717.2,1210.4 1721.2,1214.5 1725.2,1207.4 1729.1,1203.9 1733.1,1208.3 1737.1,1209.2 1741.0,1204.0 1745.0,1201.3 1748.5,1201.7 1752.0,1197.6 1755.6,1198.6 1759.1,1199.4 1762.6,1197.4 1766.1,1198.6 1769.7,1199.4 1773.2,1197.9 1776.7,1198.6 1780.2,1200.0 1783.8,1197.7 1787.3,1198.6 1790.6,1200.2 1793.9,1199.0 1797.2,1202.2 1800.5,1201.3 1804.0,1200.5 1807.6,1204.0 1811.1,1203.9 1815.1,1202.7 1819.0,1203.9 1824.3,1214.5 1828.3,1213.5 1832.2,1206.6 1836.2,1205.2 1840.2,1206.6 1844.1,1212.8 1848.1,1214.5 1852.1,1208.6 1856.0,1206.6 1860.0,1210.3 1864.0,1209.2 1869.3,1214.5 1873.2,1209.6 1877.2,1209.2 1880.7,1209.9 1884.2,1203.7 1887.8,1203.9 1891.1,1204.4 1894.4,1201.5 1897.7,1203.0 1901.0,1201.3 1905.0,1195.6 1908.9,1194.9 1911.9,1194.9 1912.0,1194.9" fill="none" stroke="#0014be" stroke-width="5.3" stroke-linejoin="round"/>
<path d="M308.0,1192.1 312.0,1192.1 847.5,1192.1 851.5,1192.1 854.5,1192.1 858.0,1185.9 861.6,1181.0 865.1,1178.8 868.6,1173.9 872.1,1170.2 875.7,1169.2 880.4,1162.2 885.1,1173.9 888.6,1178.9 892.1,1178.6 898.0,1143.4 903.9,1164.5 908.6,1181.0 912.1,1170.2 915.6,1164.5 919.1,1175.4 922.7,1183.3 926.2,1184.5 929.7,1188.0 932.9,1188.5 936.0,1184.8 939.1,1185.7 942.3,1187.4 945.4,1184.0 948.5,1185.7 952.4,1187.2 956.4,1184.7 960.3,1185.7 964.2,1187.7 968.1,1186.2 972.0,1188.0 975.9,1189.3 979.9,1186.7 983.8,1188.0 987.3,1185.8 990.8,1181.0 994.0,1180.4 997.1,1184.7 1000.2,1183.3 1003.4,1183.2 1006.5,1186.8 1009.6,1185.7 1012.8,1183.8 1015.9,1187.6 1019.0,1185.7 1022.2,1182.6 1025.3,1184.3 1028.4,1181.0 1033.1,1169.2 1036.7,1170.5 1040.2,1176.3 1043.7,1171.6 1047.2,1162.2 1050.8,1165.1 1054.3,1173.9 1060.2,1159.8 1066.0,1178.6 1069.6,1178.7 1073.1,1173.9 1076.6,1172.2 1080.1,1173.9 1083.6,1180.8 1087.1,1182.1 1090.6,1181.7 1094.1,1184.5 1097.2,1185.5 1100.4,1180.9 1103.5,1182.1 1107.0,1177.4 1110.6,1170.4 1115.3,1165.7 1118.8,1097.5 1122.3,1048.2 1125.8,1069.3 1129.4,1139.8 1134.1,1146.9 1138.8,1156.3 1143.5,1168.0 1148.2,1175.1 1152.9,1177.4 1156.4,1176.2 1159.9,1179.8 1164.6,1186.8 1167.7,1190.5 1170.9,1190.0 1174.0,1192.1 1183.4,1192.1 1186.9,1188.5 1190.5,1179.8 1194.0,1180.4 1197.5,1184.5 1201.0,1184.5 1204.6,1182.1 1210.4,1172.7 1216.3,1184.5 1219.4,1183.7 1222.6,1186.9 1225.7,1186.8 1228.8,1183.6 1232.0,1185.5 1235.1,1182.1 1238.2,1182.1 1241.4,1187.0 1244.5,1186.8 1247.6,1185.0 1250.8,1188.6 1253.9,1186.8 1257.0,1185.9 1260.2,1188.5 1263.3,1186.8 1268.0,1158.6 1272.7,1092.8 1277.4,1076.4 1282.1,1111.6 1286.8,1144.5 1291.5,1163.3 1296.2,1168.0 1300.9,1153.9 1305.6,1165.7 1311.5,1158.6 1315.0,1177.4 1319.7,1184.5 1323.2,1184.0 1326.8,1186.8 1330.3,1191.0 1333.8,1192.1 1337.8,1192.1 1479.2,1192.1 1483.2,1192.1 1488.5,1185.4 1492.5,1177.0 1496.4,1172.2 1500.4,1172.5 1504.4,1169.6 1509.7,1161.6 1514.9,1159.0 1520.2,1156.3 1525.5,1143.1 1530.8,1153.7 1536.1,1166.9 1540.1,1166.9 1544.0,1169.6 1549.3,1180.1 1553.3,1184.6 1557.3,1185.4 1560.6,1180.4 1563.9,1180.1 1569.2,1192.1 1575.8,1192.1 1586.3,1192.1 1589.6,1190.1 1593.0,1184.1 1596.3,1184.1 1599.6,1188.1 1603.5,1188.4 1607.5,1185.4 1611.0,1184.9 1614.5,1188.1 1618.1,1186.7 1621.6,1185.8 1625.1,1189.4 1628.6,1188.1 1632.2,1185.0 1635.7,1187.2 1639.2,1184.1 1642.7,1184.1 1646.3,1188.6 1649.8,1188.1 1653.3,1188.2 1656.8,1193.3 1660.4,1192.1 1664.3,1183.6 1668.3,1177.5 1672.3,1185.2 1676.2,1188.1 1680.2,1183.9 1684.2,1182.8 1688.1,1182.6 1692.1,1180.1 1696.1,1181.7 1700.0,1185.4 1704.0,1185.1 1708.0,1182.8 1711.5,1179.6 1715.0,1180.6 1718.5,1177.5 1723.8,1185.4 1727.8,1185.3 1731.8,1188.1 1735.3,1191.3 1738.8,1190.4 1742.3,1192.1 1755.6,1192.1 1760.9,1188.1 1764.4,1191.0 1767.9,1190.3 1771.4,1192.1 1775.0,1192.7 1778.5,1188.7 1782.0,1188.1 1785.5,1187.6 1789.1,1181.2 1792.6,1180.1 1796.1,1180.7 1799.6,1175.7 1803.2,1177.5 1808.4,1170.9 1813.7,1177.5 1819.0,1180.1 1823.0,1176.0 1827.0,1166.9 1830.9,1170.3 1834.9,1177.5 1838.9,1180.6 1842.8,1180.1 1848.1,1172.2 1852.1,1172.7 1856.0,1177.5 1860.0,1179.6 1864.0,1177.5 1867.9,1177.3 1871.9,1180.1 1875.9,1183.8 1879.8,1185.4 1883.4,1184.4 1886.9,1187.2 1890.4,1185.4 1893.9,1184.9 1897.5,1187.7 1901.0,1186.7 1905.0,1189.2 1908.9,1192.1 1911.9,1192.1 1912.0,1192.1" fill="none" stroke="#0014be" stroke-width="5.3" stroke-linejoin="round"/>
<path d="M308.0,1194.9 321.2,1194.9 325.1,1195.1 329.0,1200.5 332.9,1202.1 336.4,1203.9 340.0,1209.2 343.5,1210.1 347.0,1206.8 350.1,1203.8 353.3,1205.3 356.4,1202.1 359.5,1198.8 362.7,1199.8 365.8,1197.4 369.8,1194.9 446.4,1194.9 450.4,1194.9 453.9,1194.3 457.5,1197.4 462.2,1204.5 466.9,1211.5 471.6,1204.5 475.1,1207.8 478.6,1206.8 482.1,1210.9 485.7,1218.6 489.2,1214.3 492.7,1206.8 497.4,1211.5 500.9,1204.2 504.5,1202.1 508.0,1215.5 511.5,1225.6 516.2,1211.5 519.7,1207.6 523.3,1206.8 526.8,1212.3 530.3,1213.9 535.0,1244.4 539.7,1218.6 544.4,1216.2 549.1,1237.4 553.8,1216.2 558.5,1206.8 563.2,1202.1 566.7,1202.4 570.3,1206.8 573.4,1207.2 576.5,1203.7 579.7,1204.5 583.2,1207.2 586.7,1206.8 589.9,1203.0 593.0,1205.4 596.1,1202.1 599.3,1198.7 602.4,1200.0 605.5,1197.4 609.0,1196.5 612.6,1197.4 616.1,1201.4 619.6,1202.1 623.1,1201.2 626.7,1204.5 630.2,1204.8 633.7,1202.1 636.9,1200.2 640.0,1201.5 643.1,1199.8 647.8,1197.4 652.5,1194.9 656.1,1197.3 659.6,1204.5 663.1,1211.9 666.6,1216.2 670.2,1221.8 673.7,1232.7 677.2,1226.0 680.7,1213.9 684.3,1205.3 687.8,1199.8 690.0,1197.4 693.5,1208.5 697.1,1216.2 701.8,1220.9 706.5,1202.1 710.0,1197.9 713.5,1197.4 717.0,1204.1 720.6,1206.8 725.3,1225.6 730.0,1282.0 733.5,1322.0 737.0,1289.1 741.7,1235.0 746.4,1223.3 751.1,1246.8 754.6,1265.6 760.5,1218.6 765.2,1239.7 769.9,1220.9 773.4,1221.8 777.0,1228.0 781.7,1204.5 785.2,1203.5 788.7,1199.8 791.8,1199.6 795.0,1202.5 798.1,1202.1 802.8,1209.2 806.3,1203.2 809.9,1202.1 813.4,1203.3 816.9,1202.1 820.0,1201.5 823.2,1205.2 826.3,1204.5 829.8,1201.8 833.4,1202.1 838.1,1218.6 841.6,1213.5 845.1,1204.5 848.6,1203.2 852.2,1206.8 855.7,1205.7 859.2,1202.1 862.3,1202.0 865.5,1205.9 868.6,1204.5 871.7,1201.6 874.9,1205.2 878.0,1202.1 881.1,1201.4 884.3,1205.9 887.4,1204.5 890.5,1201.5 893.7,1204.1 896.8,1202.1 899.9,1199.6 903.1,1202.4 906.2,1199.8 909.3,1198.3 912.5,1201.1 915.6,1199.8 918.8,1199.4 921.9,1202.6 925.0,1202.1 928.2,1201.0 931.3,1203.0 934.4,1202.1 937.6,1201.2 940.7,1205.0 943.8,1204.5 948.5,1220.9 952.0,1215.9 955.6,1216.2 959.1,1215.1 962.6,1211.5 965.8,1210.3 968.9,1217.1 972.0,1216.2 975.2,1210.2 978.3,1212.8 981.4,1206.8 984.6,1204.4 987.7,1208.7 990.8,1206.8 994.0,1204.2 997.1,1205.8 1000.2,1202.1 1003.4,1200.3 1006.5,1201.7 1009.6,1199.8 1012.8,1197.5 1015.9,1199.5 1019.0,1197.4 1022.9,1196.4 1026.9,1198.9 1030.8,1197.4 1034.7,1196.2 1038.6,1198.4 1042.5,1197.4 1046.4,1196.5 1050.4,1198.9 1054.3,1197.4 1058.2,1195.0 1062.1,1196.2 1066.0,1194.9 1069.9,1193.8 1073.9,1196.9 1077.8,1197.4 1081.0,1195.5 1084.3,1197.3 1087.6,1194.3 1090.8,1195.7 1094.1,1194.9 1108.2,1194.9 1122.3,1194.9 1125.8,1194.9 1129.4,1197.5 1132.9,1195.8 1136.4,1198.6 1139.9,1199.3 1143.5,1197.2 1147.0,1200.1 1150.5,1198.6 1153.9,1197.8 1157.2,1199.5 1160.6,1197.6 1163.9,1199.8 1167.3,1197.5 1170.6,1199.7 1174.0,1198.6 1177.4,1197.1 1180.7,1199.3 1184.1,1197.8 1187.4,1199.4 1190.8,1197.8 1194.2,1199.3 1197.5,1198.6 1200.9,1197.0 1204.2,1201.0 1207.6,1198.7 1210.9,1201.3 1214.3,1199.1 1217.7,1201.7 1221.0,1200.9 1224.4,1199.4 1227.7,1201.8 1231.1,1198.4 1234.4,1200.8 1237.8,1198.2 1241.2,1200.1 1244.5,1198.6 1247.9,1197.8 1251.2,1199.8 1254.6,1197.2 1257.9,1199.6 1261.3,1197.8 1264.7,1199.4 1268.0,1198.6 1271.1,1197.5 1274.3,1199.9 1277.4,1197.1 1280.5,1199.6 1283.7,1197.1 1286.8,1198.6 1289.9,1200.9 1293.1,1198.9 1296.2,1200.9 1299.3,1203.1 1302.5,1201.0 1305.6,1203.3 1308.8,1206.0 1311.9,1203.3 1315.0,1205.6 1319.7,1208.0 1324.4,1203.3 1329.1,1198.6 1332.1,1199.2 1335.2,1196.0 1338.2,1197.3 1341.2,1194.4 1344.2,1196.3 1347.2,1194.9 1350.3,1194.9 1353.4,1198.2 1356.5,1198.6 1359.7,1203.3 1362.8,1204.5 1365.9,1199.6 1369.1,1200.9 1372.6,1198.4 1376.1,1194.9 1379.1,1194.9 1383.1,1194.9 1908.0,1194.9 1912.0,1194.9" fill="none" stroke="#cc0000" stroke-width="5.3" stroke-linejoin="round"/>
<path d="M308.0,1192.1 311.8,1185.7 314.9,1180.9 318.0,1181.5 321.2,1176.3 324.3,1176.8 327.4,1183.2 330.6,1183.3 333.7,1183.2 336.8,1187.4 340.0,1188.0 343.5,1190.0 347.0,1192.1 351.0,1192.1 448.8,1192.1 452.8,1192.1 457.5,1185.7 462.2,1173.9 466.9,1185.7 470.4,1184.6 473.9,1178.6 477.4,1171.1 481.0,1166.9 485.7,1178.6 490.4,1171.6 495.1,1178.6 499.8,1188.0 504.5,1159.8 509.2,1171.6 513.9,1178.6 517.4,1181.2 520.9,1181.0 525.6,1164.5 530.3,1143.4 535.0,1162.2 539.7,1150.4 544.4,1169.2 549.1,1178.6 553.8,1183.3 558.5,1188.0 563.2,1192.1 566.7,1183.4 570.3,1178.6 573.8,1184.0 577.3,1185.7 580.8,1181.1 584.4,1181.0 587.9,1188.9 591.4,1192.1 594.6,1190.3 597.7,1190.7 600.8,1188.0 604.0,1184.7 607.1,1186.9 610.2,1183.3 613.7,1180.4 617.3,1181.0 620.8,1183.6 624.3,1182.1 627.8,1182.0 631.4,1185.7 634.9,1186.5 638.4,1185.7 642.0,1187.9 645.5,1192.1 649.0,1189.1 652.5,1181.0 657.2,1169.2 660.4,1164.3 663.5,1164.2 666.6,1159.8 670.2,1162.9 673.7,1171.6 678.4,1185.7 681.9,1188.2 685.4,1188.0 690.0,1166.9 694.7,1169.2 699.4,1188.0 702.5,1186.6 705.7,1189.6 708.8,1188.0 713.5,1169.2 718.2,1122.2 722.9,1054.1 727.6,1077.6 731.1,1131.6 734.7,1145.7 740.5,1155.1 746.4,1124.6 751.1,1173.9 754.6,1158.5 758.2,1148.1 762.9,1162.2 767.6,1159.8 772.3,1178.6 777.0,1185.7 780.5,1191.5 784.0,1192.1 787.5,1185.7 791.1,1181.0 795.8,1178.6 800.5,1185.7 804.0,1187.4 807.5,1185.7 810.6,1187.0 813.8,1192.8 816.9,1192.1 826.3,1192.1 831.0,1166.9 835.7,1178.6 840.4,1178.6 845.1,1185.7 848.2,1183.8 851.4,1186.6 854.5,1185.7 859.2,1183.3 862.3,1183.8 865.5,1187.6 868.6,1188.0 871.7,1185.3 874.9,1187.8 878.0,1185.7 881.1,1184.1 884.3,1186.8 887.4,1185.7 890.5,1182.4 893.7,1184.1 896.8,1181.0 899.9,1181.0 903.1,1185.9 906.2,1185.7 909.3,1183.2 912.5,1186.2 915.6,1183.3 918.8,1183.1 921.9,1188.6 925.0,1188.0 928.2,1182.4 931.3,1184.4 934.4,1178.6 939.1,1171.6 943.8,1178.6 948.5,1178.6 952.0,1171.5 955.6,1169.2 959.1,1175.4 962.6,1178.6 967.3,1176.3 970.8,1174.8 974.4,1178.6 977.9,1183.6 981.4,1183.3 984.6,1178.2 987.7,1180.8 990.8,1176.3 995.5,1178.6 998.7,1177.2 1001.8,1181.6 1004.9,1181.0 1008.4,1180.5 1012.0,1186.3 1015.5,1184.9 1019.0,1188.0 1022.9,1190.6 1026.9,1190.1 1030.8,1192.1 1034.7,1193.4 1038.6,1189.1 1042.5,1188.0 1046.1,1190.9 1049.6,1189.6 1053.1,1193.0 1056.6,1192.1 1059.8,1190.7 1062.9,1191.3 1066.0,1188.0 1069.9,1185.4 1073.9,1187.3 1077.8,1185.7 1081.0,1184.8 1084.3,1187.9 1087.6,1186.1 1090.8,1189.7 1094.1,1189.2 1097.6,1187.6 1101.2,1190.8 1104.7,1188.0 1108.2,1189.2 1111.7,1190.3 1115.3,1186.2 1118.8,1187.4 1122.3,1185.6 1125.8,1184.7 1129.4,1187.6 1132.9,1186.4 1136.4,1188.0 1139.9,1189.4 1143.5,1187.2 1147.0,1189.7 1150.5,1189.2 1153.9,1189.1 1157.2,1191.9 1160.6,1190.1 1163.9,1193.2 1167.3,1190.7 1170.6,1192.1 1174.0,1192.1 1177.4,1191.8 1180.7,1193.4 1184.1,1190.4 1187.4,1192.3 1190.8,1189.2 1194.2,1191.0 1197.5,1189.2 1200.9,1187.0 1204.2,1189.8 1207.6,1186.9 1210.9,1189.4 1214.3,1186.5 1217.7,1188.2 1221.0,1186.8 1224.4,1185.1 1227.7,1188.5 1231.1,1186.0 1234.4,1188.2 1237.8,1186.4 1241.2,1189.2 1244.5,1188.0 1247.9,1187.3 1251.2,1189.3 1254.6,1186.6 1257.9,1188.8 1261.3,1186.6 1264.7,1189.2 1268.0,1188.0 1271.1,1185.1 1274.3,1186.9 1277.4,1184.5 1280.5,1181.8 1283.7,1184.9 1286.8,1182.1 1289.9,1181.9 1293.1,1184.7 1296.2,1184.5 1299.3,1182.8 1302.5,1186.5 1305.6,1184.5 1308.8,1182.4 1311.9,1184.5 1315.0,1182.1 1318.5,1179.0 1322.1,1179.8 1325.6,1183.6 1329.1,1184.5 1333.8,1192.1 1336.8,1192.1 1340.8,1192.1 1908.0,1192.1 1912.0,1192.1" fill="none" stroke="#cc0000" stroke-width="5.3" stroke-linejoin="round"/>
<path d="M308.0,1194.9 327.6,1194.9 330.6,1194.9 333.7,1194.5 336.8,1199.3 340.0,1199.8 343.1,1196.8 346.2,1197.4 349.4,1194.9 353.4,1194.9 657.9,1194.9 661.9,1194.9 665.1,1194.0 668.2,1198.2 671.3,1198.6 674.5,1195.7 677.6,1196.7 680.7,1194.9 690.0,1194.9 694.0,1194.9 756.5,1194.9 760.5,1194.9 764.4,1194.9 768.3,1197.3 772.3,1197.4 776.2,1196.3 780.1,1198.7 784.0,1197.4 787.5,1196.3 791.1,1199.8 794.6,1197.6 798.1,1199.8 801.6,1201.5 805.2,1198.5 808.7,1200.7 812.2,1199.8 815.3,1198.8 818.5,1201.3 821.6,1199.8 824.7,1198.3 827.9,1201.5 831.0,1199.8 834.9,1198.1 838.8,1200.8 842.8,1199.8 846.7,1198.8 850.6,1200.8 854.5,1199.8 857.6,1198.0 860.8,1199.7 863.9,1197.4 867.4,1196.3 871.0,1200.3 874.5,1198.2 878.0,1199.8 881.5,1201.4 885.1,1198.7 888.6,1201.0 892.1,1199.8 895.2,1198.2 898.4,1200.6 901.5,1199.8 904.6,1198.1 907.8,1199.8 910.9,1197.4 914.4,1197.0 918.0,1199.7 921.5,1197.8 925.0,1199.8 928.2,1200.5 931.3,1197.5 934.4,1197.4 937.9,1199.1 941.5,1197.4 945.0,1200.4 948.5,1199.8 952.0,1199.7 955.6,1203.8 959.1,1201.1 962.6,1204.5 965.8,1206.9 968.9,1204.2 972.0,1206.8 975.5,1210.6 979.1,1211.5 982.6,1206.3 986.1,1204.5 989.3,1205.5 992.4,1201.8 995.5,1202.1 998.7,1205.0 1001.8,1201.5 1004.9,1204.5 1008.1,1207.3 1011.2,1204.9 1014.3,1209.2 1017.5,1210.1 1020.6,1205.2 1023.7,1206.8 1026.9,1208.2 1030.0,1203.8 1033.1,1204.5 1036.3,1207.3 1039.4,1204.0 1042.5,1206.8 1045.7,1209.1 1048.8,1205.4 1051.9,1206.8 1055.1,1208.2 1058.2,1202.8 1061.3,1204.5 1064.5,1207.3 1067.6,1204.2 1070.7,1206.8 1073.9,1208.0 1077.0,1205.1 1080.1,1206.8 1083.2,1208.0 1086.3,1203.9 1089.4,1205.6 1092.5,1208.5 1095.7,1205.2 1098.8,1208.0 1102.3,1204.6 1105.9,1198.6 1109.0,1198.4 1112.1,1203.4 1115.3,1203.3 1119.2,1198.9 1123.1,1198.8 1127.0,1194.9 1130.1,1195.6 1133.3,1202.7 1136.4,1205.6 1139.5,1211.4 1142.7,1224.3 1145.8,1231.5 1150.5,1219.7 1155.2,1222.1 1158.3,1219.5 1161.5,1223.0 1164.6,1219.7 1167.7,1219.8 1170.9,1226.6 1174.0,1226.8 1178.7,1203.3 1182.2,1200.4 1185.8,1200.9 1189.3,1201.1 1192.8,1198.6 1195.9,1198.2 1199.1,1201.1 1202.2,1200.9 1205.7,1203.3 1209.3,1208.0 1212.8,1225.7 1216.3,1238.5 1221.0,1262.0 1225.7,1226.8 1230.4,1210.3 1235.1,1215.0 1239.8,1280.8 1244.5,1238.5 1249.2,1208.0 1253.9,1226.8 1258.6,1257.3 1263.3,1210.3 1268.0,1240.9 1272.7,1215.0 1277.4,1210.3 1282.1,1205.6 1286.8,1212.7 1291.5,1229.1 1296.2,1240.9 1300.9,1252.6 1305.6,1262.0 1310.3,1238.5 1315.0,1247.9 1319.7,1271.4 1324.4,1278.5 1329.1,1238.5 1333.8,1194.9 1343.2,1194.9 1346.7,1194.6 1350.3,1198.6 1355.0,1285.5 1359.7,1410.1 1364.4,1309.0 1369.1,1226.8 1373.8,1210.3 1377.3,1204.0 1380.8,1194.9 1384.8,1194.9 1484.5,1194.9 1488.5,1194.9 1491.7,1194.9 1494.9,1196.6 1498.0,1195.6 1501.2,1198.7 1504.4,1198.6 1507.5,1197.3 1510.7,1200.5 1513.9,1198.8 1517.1,1201.8 1520.2,1201.3 1523.5,1200.0 1526.8,1204.0 1530.2,1201.9 1533.5,1203.9 1536.8,1206.2 1540.1,1203.4 1543.4,1208.1 1546.7,1206.6 1550.2,1206.5 1553.7,1212.8 1557.3,1211.9 1562.5,1203.9 1566.5,1197.7 1570.5,1194.9 1573.5,1194.9 1577.5,1194.9 1908.0,1194.9 1912.0,1194.9" fill="none" stroke="#009600" stroke-width="5.3" stroke-linejoin="round"/>
<path d="M308.0,1192.1 311.1,1192.1 314.1,1192.1 317.2,1190.0 320.4,1191.4 323.5,1188.0 326.6,1188.9 329.8,1192.9 332.9,1192.1 336.9,1192.1 648.5,1192.1 652.5,1192.1 656.4,1191.3 660.4,1192.1 664.3,1189.2 668.2,1189.3 672.1,1192.1 676.0,1192.1 685.4,1192.1 690.0,1192.1 694.0,1192.1 756.5,1192.1 760.5,1192.1 763.6,1190.1 766.8,1191.2 769.9,1188.0 773.0,1188.4 776.2,1193.0 779.3,1192.1 793.4,1192.1 796.9,1191.3 800.5,1192.1 804.0,1188.7 807.5,1188.0 811.0,1187.8 814.6,1185.7 818.1,1187.9 821.6,1192.1 831.0,1192.1 834.1,1192.4 837.3,1189.0 840.4,1188.0 843.9,1188.8 847.5,1186.4 851.0,1188.9 854.5,1188.0 858.4,1187.3 862.3,1189.6 866.3,1188.0 869.4,1187.2 872.5,1189.6 875.7,1188.0 879.2,1183.9 882.7,1183.3 885.8,1186.1 889.0,1182.7 892.1,1185.7 895.6,1185.1 899.2,1181.0 902.7,1181.2 906.2,1185.7 909.3,1186.5 912.5,1184.0 915.6,1185.7 918.8,1187.8 921.9,1185.6 925.0,1188.0 928.2,1187.5 931.3,1183.0 934.4,1183.3 937.6,1184.9 940.7,1180.7 943.8,1181.0 947.0,1181.8 950.1,1177.4 953.2,1178.6 957.9,1176.3 961.1,1180.5 964.2,1177.8 967.3,1181.0 970.5,1182.2 973.6,1179.6 976.7,1181.0 979.9,1181.6 983.0,1175.3 986.1,1176.3 989.6,1177.0 993.2,1173.9 996.7,1174.4 1000.2,1178.6 1003.4,1181.1 1006.5,1178.5 1009.6,1181.0 1012.8,1181.9 1015.9,1178.2 1019.0,1178.6 1022.2,1181.3 1025.3,1177.5 1028.4,1181.0 1031.6,1181.9 1034.7,1177.1 1037.8,1178.6 1041.0,1179.9 1044.1,1176.4 1047.2,1178.6 1050.4,1179.6 1053.5,1173.1 1056.6,1173.9 1061.3,1166.9 1066.0,1178.6 1069.2,1181.3 1072.3,1178.3 1075.4,1181.0 1078.9,1183.8 1082.4,1180.4 1085.9,1184.8 1089.4,1184.5 1092.5,1184.3 1095.7,1187.8 1098.8,1186.8 1102.3,1178.1 1105.9,1175.1 1109.4,1176.0 1112.9,1172.7 1117.6,1158.6 1122.3,1139.8 1127.0,1149.2 1129.4,1170.4 1134.1,1168.0 1137.6,1164.8 1141.1,1165.7 1145.8,1163.3 1150.5,1186.8 1154.0,1188.4 1157.6,1186.8 1161.1,1187.0 1164.6,1189.2 1168.1,1191.2 1171.7,1190.5 1175.2,1192.1 1178.7,1192.1 1183.4,1172.7 1189.3,1116.3 1195.2,1175.1 1198.7,1175.6 1202.2,1179.8 1206.9,1163.3 1211.6,1102.2 1216.3,1139.8 1221.0,1186.8 1225.7,1172.7 1230.4,1135.1 1235.1,1168.0 1239.8,1153.9 1244.5,1177.4 1249.2,1172.7 1253.9,1177.4 1258.6,1184.5 1263.3,1165.7 1268.0,1151.6 1272.7,1132.8 1277.4,1144.5 1282.1,1163.3 1286.8,1132.8 1291.5,1139.8 1296.2,1092.8 1300.9,1081.1 1305.6,1111.6 1309.1,968.2 1312.7,980.0 1315.0,1050.5 1319.7,1158.6 1324.4,1168.0 1329.1,1182.1 1333.8,1192.1 1337.8,1192.1 1484.5,1192.1 1488.5,1192.1 1491.8,1193.1 1495.1,1189.4 1498.4,1191.1 1501.7,1188.1 1505.0,1185.8 1508.3,1187.8 1511.6,1183.7 1514.9,1184.1 1518.3,1185.8 1521.6,1181.7 1524.9,1184.4 1528.2,1182.8 1531.5,1180.8 1534.8,1182.5 1538.1,1179.1 1541.4,1180.1 1545.4,1184.4 1549.3,1185.4 1552.8,1187.1 1556.4,1192.0 1559.9,1192.1 1562.9,1192.1 1566.9,1192.1 1908.0,1192.1 1912.0,1192.1" fill="none" stroke="#009600" stroke-width="5.3" stroke-linejoin="round"/>
</g>
<line x1="304" y1="1193.5" x2="1916" y2="1193.5" stroke="#000" stroke-width="3.2"/>
<g clip-path="url(#clp3)">
<path d="M308.0,1626.1 312.0,1626.1 683.0,1626.1 687.0,1626.1 690.0,1626.1 694.0,1626.1 850.5,1626.1 854.5,1626.1 858.0,1625.5 861.6,1629.0 865.1,1628.2 868.6,1631.5 871.7,1635.4 874.9,1634.7 878.0,1638.6 881.5,1648.5 885.1,1655.0 889.8,1673.8 894.5,1690.3 899.2,1655.0 903.9,1640.9 907.4,1669.2 910.9,1702.0 915.6,1716.1 920.3,1669.1 925.0,1655.0 929.7,1680.9 934.4,1645.6 937.9,1643.5 941.5,1638.6 945.0,1635.4 948.5,1636.2 951.7,1636.5 954.8,1632.4 957.9,1633.9 961.4,1638.8 965.0,1640.9 968.5,1635.0 972.0,1633.9 975.2,1634.6 978.3,1630.9 981.4,1631.5 984.6,1632.6 987.7,1630.4 990.8,1631.5 994.0,1632.3 997.1,1628.6 1000.2,1629.2 1003.4,1630.4 1006.5,1628.3 1009.6,1629.2 1012.8,1631.4 1015.9,1629.8 1019.0,1631.5 1022.2,1635.6 1025.3,1634.2 1028.4,1638.6 1032.0,1644.3 1035.5,1645.6 1039.0,1645.7 1042.5,1650.3 1046.1,1653.7 1049.6,1652.7 1053.1,1654.6 1056.6,1659.7 1060.2,1657.9 1063.7,1650.3 1067.2,1685.5 1070.7,1725.5 1075.4,1678.5 1080.1,1669.1 1084.8,1683.2 1088.3,1666.9 1091.8,1645.6 1095.3,1654.4 1098.8,1669.1 1103.5,1655.0 1108.2,1633.9 1111.7,1634.1 1115.3,1631.5 1118.8,1635.6 1122.3,1643.3 1127.0,1657.4 1131.7,1638.6 1135.2,1660.3 1138.8,1678.5 1144.6,1718.5 1150.5,1664.4 1154.0,1661.5 1157.6,1662.1 1161.1,1681.4 1164.6,1697.3 1169.3,1652.7 1174.0,1662.1 1178.7,1631.5 1182.2,1630.4 1185.8,1631.5 1189.3,1633.8 1192.8,1633.9 1195.9,1630.8 1199.1,1632.0 1202.2,1629.2 1205.3,1628.8 1208.5,1632.2 1211.6,1631.5 1215.1,1633.5 1218.7,1638.6 1222.2,1636.2 1225.7,1629.2 1228.8,1628.9 1232.0,1633.6 1235.1,1633.9 1239.8,1643.3 1243.3,1634.7 1246.9,1631.5 1250.4,1637.6 1253.9,1640.9 1257.0,1636.5 1260.2,1637.5 1263.3,1631.5 1266.8,1632.9 1270.4,1636.2 1273.9,1634.8 1277.4,1631.5 1280.5,1629.0 1283.7,1630.7 1286.8,1629.2 1289.9,1628.5 1293.1,1632.1 1296.2,1631.5 1299.3,1631.2 1302.5,1634.2 1305.6,1633.9 1309.1,1632.9 1312.7,1639.2 1316.2,1637.6 1319.7,1640.9 1323.2,1639.3 1326.8,1633.9 1330.3,1627.5 1333.8,1626.1 1350.3,1626.1 1353.4,1629.9 1356.5,1631.3 1359.7,1636.2 1362.8,1635.9 1365.9,1630.4 1369.1,1629.2 1373.0,1628.4 1376.9,1625.5 1380.8,1626.1 1384.8,1626.1 1476.6,1626.1 1480.6,1626.1 1484.5,1630.0 1488.5,1631.5 1492.5,1633.7 1496.4,1639.5 1501.7,1639.5 1507.0,1671.2 1512.3,1684.4 1517.6,1660.6 1522.9,1745.2 1528.2,1681.8 1533.5,1710.9 1538.7,1766.4 1544.0,1710.9 1549.3,1658.0 1554.6,1650.0 1558.6,1648.6 1562.5,1642.1 1567.8,1644.7 1571.8,1643.9 1575.8,1647.4 1581.1,1660.6 1586.3,1631.5 1590.3,1636.5 1594.3,1636.8 1598.2,1632.7 1602.2,1631.5 1606.2,1649.2 1610.1,1663.3 1614.1,1652.9 1618.1,1647.4 1622.0,1645.9 1626.0,1642.1 1630.0,1637.6 1633.9,1636.8 1637.9,1640.4 1641.9,1639.5 1645.8,1645.2 1649.8,1655.3 1655.1,1658.0 1659.1,1657.4 1663.0,1652.7 1668.3,1644.7 1672.3,1635.3 1676.2,1631.5 1681.5,1665.9 1685.5,1677.1 1689.5,1684.4 1694.7,1642.1 1700.0,1647.4 1705.3,1658.0 1710.6,1639.5 1715.9,1663.3 1721.2,1702.9 1726.5,1658.0 1731.8,1644.7 1737.1,1679.1 1741.0,1659.4 1745.0,1644.7 1748.5,1644.0 1752.0,1638.1 1755.6,1636.8 1759.5,1635.7 1763.5,1631.5 1767.5,1634.1 1771.4,1639.5 1775.4,1644.7 1779.4,1647.4 1783.3,1640.4 1787.3,1636.8 1790.8,1640.0 1794.3,1638.4 1797.9,1642.1 1801.8,1655.2 1805.8,1663.3 1809.8,1666.0 1813.7,1673.8 1819.0,1658.0 1824.3,1689.7 1829.6,1658.0 1834.9,1644.7 1838.4,1656.4 1841.9,1660.6 1845.5,1671.2 1850.8,1676.5 1856.0,1652.7 1860.0,1652.4 1864.0,1647.4 1867.9,1657.8 1871.9,1673.8 1875.9,1670.5 1879.8,1663.3 1883.8,1657.8 1887.8,1658.0 1891.7,1654.1 1895.7,1647.4 1899.7,1636.6 1903.6,1631.5 1908.9,1626.1 1911.9,1626.1 1912.0,1626.1" fill="none" stroke="#0014be" stroke-width="5.3" stroke-linejoin="round"/>
<path d="M308.0,1623.3 312.0,1623.3 683.0,1623.3 687.0,1623.3 690.0,1623.3 694.0,1623.3 850.5,1623.3 854.5,1623.3 857.6,1609.9 860.8,1599.2 863.9,1584.5 867.0,1587.4 870.2,1598.0 873.3,1601.0 876.8,1580.2 880.4,1563.4 883.9,1582.4 887.4,1598.6 892.1,1584.5 895.6,1559.3 899.2,1537.5 903.9,1551.6 908.6,1593.9 912.1,1585.5 915.6,1572.8 919.1,1587.6 922.7,1608.0 926.2,1611.2 929.7,1610.4 932.9,1610.1 936.0,1617.0 939.1,1617.4 942.3,1614.6 945.4,1616.1 948.5,1612.7 952.0,1606.9 955.6,1605.7 959.1,1611.5 962.6,1612.7 965.8,1611.5 968.9,1615.3 972.0,1615.1 975.2,1615.2 978.3,1620.1 981.4,1619.8 984.9,1618.9 988.5,1620.5 992.0,1618.9 995.5,1619.8 998.7,1620.1 1001.8,1616.9 1004.9,1617.4 1008.4,1616.5 1012.0,1612.7 1015.5,1608.1 1019.0,1608.0 1022.5,1604.8 1026.1,1598.6 1029.6,1594.4 1033.1,1593.9 1036.7,1596.3 1040.2,1593.9 1044.9,1542.2 1049.6,1539.9 1053.1,1561.2 1056.6,1586.9 1061.3,1570.4 1066.0,1603.3 1069.2,1603.1 1072.3,1594.2 1075.4,1593.9 1079.0,1593.2 1082.5,1589.2 1085.9,1601.5 1089.4,1617.4 1092.9,1617.8 1096.5,1615.1 1100.0,1604.7 1103.5,1598.6 1108.2,1608.0 1112.9,1615.1 1117.6,1570.4 1123.5,1535.2 1127.0,1565.7 1130.5,1582.2 1136.4,1572.8 1141.1,1549.3 1145.8,1570.4 1150.5,1608.0 1155.2,1615.1 1159.9,1610.4 1164.6,1623.3 1174.0,1623.3 1183.4,1623.3 1192.8,1623.3 1197.5,1623.3 1200.6,1624.4 1203.8,1620.7 1206.9,1620.9 1210.0,1623.0 1213.2,1622.4 1216.3,1623.3 1219.4,1624.2 1222.6,1620.7 1225.7,1620.9 1228.8,1621.8 1232.0,1618.5 1235.1,1619.8 1238.2,1620.6 1241.4,1618.4 1244.5,1619.8 1247.6,1621.4 1250.8,1619.8 1253.9,1620.9 1257.0,1623.6 1260.2,1622.0 1263.3,1623.3 1266.4,1623.8 1269.6,1619.8 1272.7,1619.8 1275.8,1620.7 1279.0,1616.7 1282.1,1617.4 1285.2,1619.6 1288.4,1617.9 1291.5,1619.8 1294.6,1622.1 1297.8,1621.9 1300.9,1623.3 1304.1,1624.6 1307.2,1620.5 1310.3,1619.8 1313.5,1622.6 1316.6,1622.1 1319.7,1623.3 1329.1,1623.3 1333.8,1623.3 1337.8,1623.3 1476.6,1623.3 1480.6,1621.0 1484.5,1616.7 1488.5,1607.7 1493.8,1602.4 1499.1,1557.5 1503.1,1552.2 1507.0,1583.9 1512.3,1486.1 1517.6,1554.8 1522.9,1472.9 1525.5,1443.8 1530.8,1499.3 1536.1,1552.2 1540.1,1589.2 1544.0,1591.9 1549.3,1605.1 1554.6,1599.8 1559.9,1605.1 1563.9,1576.0 1567.8,1618.3 1571.8,1617.8 1575.8,1621.0 1579.3,1618.5 1582.8,1608.7 1586.3,1605.1 1589.6,1593.8 1593.0,1578.6 1596.3,1590.7 1599.6,1605.1 1604.8,1586.6 1610.1,1610.4 1614.1,1609.9 1618.1,1605.1 1621.6,1607.6 1625.1,1618.4 1628.6,1621.0 1633.9,1591.9 1637.9,1586.6 1641.9,1583.9 1645.8,1589.9 1649.8,1591.9 1655.1,1621.0 1659.1,1611.7 1663.0,1605.1 1666.3,1579.3 1669.6,1549.6 1672.9,1563.9 1676.2,1583.9 1681.5,1621.0 1684.6,1603.3 1687.7,1579.4 1690.8,1562.8 1694.1,1584.2 1697.4,1599.8 1702.7,1615.7 1708.0,1583.9 1713.3,1605.1 1718.5,1565.4 1723.8,1599.8 1727.8,1602.4 1731.8,1610.4 1737.1,1615.7 1740.6,1616.8 1744.1,1613.7 1747.6,1615.7 1751.2,1615.0 1754.7,1605.6 1758.2,1605.1 1762.2,1614.2 1766.1,1621.0 1770.1,1614.6 1774.1,1610.4 1778.0,1606.8 1782.0,1599.8 1786.0,1597.7 1789.9,1599.8 1793.9,1595.2 1797.9,1586.6 1803.2,1589.2 1808.4,1549.6 1813.7,1594.5 1819.0,1599.8 1822.3,1579.9 1825.6,1562.8 1828.9,1581.0 1832.2,1594.5 1836.2,1594.8 1840.2,1599.8 1844.1,1591.6 1848.1,1578.6 1853.4,1589.2 1858.7,1581.3 1862.6,1583.1 1866.6,1589.2 1870.6,1594.1 1874.5,1594.5 1879.8,1591.9 1883.8,1598.7 1887.8,1610.4 1891.7,1609.0 1895.7,1605.1 1899.7,1604.4 1903.6,1607.7 1908.9,1623.3 1911.9,1623.3 1912.0,1623.3" fill="none" stroke="#0014be" stroke-width="5.3" stroke-linejoin="round"/>
<path d="M308.0,1626.1 322.9,1626.1 325.9,1626.1 329.4,1638.4 332.9,1655.0 337.6,1678.5 343.5,1718.5 347.0,1690.3 350.5,1650.3 356.4,1655.0 359.9,1648.0 363.5,1636.2 367.0,1636.1 370.5,1638.6 373.6,1637.3 376.8,1632.1 379.9,1631.5 383.0,1631.8 386.2,1628.1 389.3,1629.2 392.4,1628.5 395.6,1625.0 398.7,1626.1 402.7,1626.1 460.5,1626.1 464.5,1626.1 468.0,1627.2 471.6,1625.9 475.1,1629.7 478.6,1629.2 481.7,1628.7 484.9,1631.8 488.0,1631.5 491.1,1630.3 494.3,1632.3 497.4,1631.5 500.5,1631.5 503.7,1635.9 506.8,1636.2 510.3,1631.7 513.9,1631.5 517.4,1636.0 520.9,1636.2 524.1,1635.8 527.2,1640.5 530.3,1640.9 533.8,1641.6 537.4,1645.6 540.9,1643.7 544.4,1638.6 549.1,1631.5 552.3,1630.5 555.4,1632.5 558.5,1631.5 561.7,1627.5 564.8,1627.9 567.9,1626.1 571.1,1629.6 574.2,1639.9 577.3,1643.3 582.0,1638.6 585.2,1637.9 588.3,1644.7 591.4,1643.3 594.9,1635.5 598.5,1631.5 602.0,1634.7 605.5,1633.9 608.7,1631.4 611.8,1634.2 614.9,1631.5 618.1,1631.7 621.2,1638.0 624.3,1638.6 627.5,1639.5 630.6,1644.8 633.7,1645.6 637.3,1639.3 640.8,1638.6 644.3,1643.7 647.8,1643.3 652.5,1631.5 655.7,1636.5 658.8,1649.0 661.9,1655.0 665.5,1652.6 669.0,1655.0 673.7,1678.5 677.2,1669.4 680.7,1655.0 684.3,1640.9 687.8,1631.5 690.0,1626.1 693.5,1637.8 697.1,1645.6 701.8,1650.3 705.3,1641.1 708.8,1636.2 711.9,1636.5 715.1,1631.2 718.2,1631.5 721.7,1650.8 725.3,1666.8 730.0,1690.3 734.7,1709.1 739.4,1650.3 744.1,1640.9 747.6,1643.9 751.1,1652.7 754.6,1652.1 758.2,1645.6 761.7,1641.9 765.2,1640.9 768.7,1645.0 772.3,1643.3 775.8,1638.0 779.3,1638.6 782.8,1637.1 786.4,1631.5 789.9,1627.3 793.4,1626.1 796.9,1641.5 800.5,1652.7 804.0,1644.2 807.5,1638.6 811.0,1643.9 814.6,1643.3 818.1,1637.3 821.6,1636.2 824.7,1642.2 827.9,1644.1 831.0,1650.3 834.5,1658.5 838.1,1662.1 841.6,1650.4 845.1,1643.3 848.6,1652.9 852.2,1657.4 855.7,1643.9 859.2,1636.2 862.7,1647.2 866.3,1655.0 869.4,1649.1 872.5,1648.5 875.7,1640.9 879.6,1642.0 883.5,1648.4 887.4,1648.0 890.5,1645.8 893.7,1649.1 896.8,1645.6 900.3,1644.2 903.9,1648.0 907.0,1656.2 910.1,1656.7 913.3,1664.4 916.8,1662.5 920.3,1655.0 923.8,1647.6 927.4,1643.3 930.9,1639.8 934.4,1631.5 937.6,1643.8 940.7,1662.5 943.8,1673.8 947.3,1688.9 950.9,1709.1 954.4,1707.6 957.9,1702.0 961.4,1683.4 965.0,1669.1 968.5,1680.9 972.0,1690.3 975.5,1680.8 979.1,1673.8 982.6,1672.6 986.1,1666.8 989.6,1658.8 993.2,1655.0 996.7,1656.6 1000.2,1652.7 1004.9,1638.6 1008.1,1634.2 1011.2,1635.1 1014.3,1631.5 1017.5,1630.4 1020.6,1633.1 1023.7,1631.5 1026.9,1630.8 1030.0,1633.9 1033.1,1633.9 1036.3,1631.2 1039.4,1634.2 1042.5,1631.5 1045.7,1631.3 1048.8,1634.6 1051.9,1633.9 1055.1,1633.2 1058.2,1637.5 1061.3,1636.2 1064.5,1635.5 1067.6,1639.2 1070.7,1638.6 1073.9,1636.0 1077.0,1639.5 1080.1,1636.2 1083.6,1632.8 1087.1,1631.5 1090.6,1629.0 1094.1,1626.1 1103.5,1626.1 1127.0,1626.1 1130.1,1626.7 1133.3,1634.6 1136.4,1636.2 1141.1,1640.9 1144.6,1634.2 1148.2,1631.5 1151.7,1629.4 1155.2,1626.1 1158.2,1626.1 1162.2,1626.1 1908.0,1626.1 1912.0,1626.1" fill="none" stroke="#cc0000" stroke-width="5.3" stroke-linejoin="round"/>
<path d="M309.4,1623.3 312.9,1593.6 316.5,1565.7 320.0,1549.5 323.5,1530.5 328.2,1565.7 331.7,1601.0 337.6,1603.3 341.1,1606.1 344.7,1612.7 348.2,1612.8 351.7,1610.4 354.8,1611.6 358.0,1616.8 361.1,1617.4 364.2,1616.4 367.4,1620.7 370.5,1619.8 373.6,1620.0 376.8,1624.0 379.9,1623.3 394.0,1623.3 398.0,1623.3 441.7,1623.3 445.7,1623.3 464.5,1623.3 468.0,1622.2 471.6,1623.2 475.1,1620.1 478.6,1619.8 481.7,1619.9 484.9,1617.2 488.0,1617.4 491.9,1618.7 495.8,1613.9 499.8,1615.1 503.3,1616.0 506.8,1612.7 511.5,1617.4 514.6,1614.7 517.8,1617.0 520.9,1615.1 524.1,1611.0 527.2,1612.6 530.3,1608.0 535.0,1612.7 538.5,1611.9 542.1,1615.1 545.6,1618.2 549.1,1617.4 552.3,1616.4 555.4,1619.9 558.5,1619.8 561.7,1613.7 564.8,1614.2 567.9,1608.0 572.6,1610.4 577.3,1615.1 582.0,1608.0 585.5,1611.9 589.1,1619.8 592.2,1620.0 595.3,1616.9 598.5,1617.4 602.0,1617.2 605.5,1615.1 609.0,1608.8 612.6,1608.0 616.1,1609.6 619.6,1605.7 624.3,1610.4 627.5,1606.6 630.6,1609.0 633.7,1605.7 638.4,1615.1 643.1,1619.8 646.7,1620.6 650.2,1623.3 653.7,1610.4 657.2,1591.6 661.3,1584.1 665.5,1582.2 669.6,1590.8 673.7,1593.9 678.4,1612.7 681.9,1613.4 685.4,1617.4 690.0,1601.0 694.7,1605.7 699.4,1615.1 702.5,1616.5 705.7,1613.4 708.8,1615.1 713.5,1608.0 718.2,1556.3 724.1,1535.2 727.6,1554.0 732.3,1589.2 735.8,1597.1 739.4,1601.0 742.9,1598.3 746.4,1598.6 751.1,1608.0 754.6,1609.7 758.2,1608.0 761.7,1603.0 765.2,1603.3 768.7,1606.9 772.3,1608.0 775.8,1610.3 779.3,1615.1 782.8,1619.1 786.4,1619.8 789.9,1606.3 793.4,1596.3 798.1,1605.7 802.8,1617.4 805.9,1619.6 809.1,1617.7 812.2,1619.8 815.3,1620.1 818.5,1616.3 821.6,1617.4 824.7,1607.2 827.9,1592.0 831.0,1582.2 835.7,1598.6 840.4,1593.9 845.1,1605.7 848.2,1604.9 851.4,1598.6 854.5,1598.6 859.2,1596.3 862.7,1603.8 866.3,1608.0 870.2,1605.4 874.1,1609.0 878.0,1605.7 881.1,1604.7 884.3,1609.4 887.4,1608.0 890.5,1600.5 893.7,1600.0 896.8,1593.9 900.3,1596.1 903.9,1601.0 907.4,1603.8 910.9,1603.3 915.6,1598.6 919.1,1601.9 922.7,1610.4 926.2,1614.7 929.7,1615.1 933.2,1587.6 936.8,1563.4 940.3,1564.0 943.8,1561.0 947.3,1565.4 950.9,1572.8 955.6,1544.6 959.1,1564.2 962.6,1579.8 966.1,1577.4 969.7,1577.5 974.4,1586.9 977.9,1588.1 981.4,1584.5 986.1,1596.3 990.8,1568.1 995.5,1593.9 1000.2,1615.1 1003.4,1616.2 1006.5,1623.6 1009.6,1623.3 1012.8,1621.6 1015.9,1623.1 1019.0,1619.8 1022.2,1617.3 1025.3,1617.9 1028.4,1615.1 1032.0,1610.1 1035.5,1610.4 1039.0,1615.0 1042.5,1615.1 1046.1,1608.4 1049.6,1605.7 1053.1,1614.4 1056.6,1617.4 1059.8,1614.0 1062.9,1616.4 1066.0,1612.7 1069.2,1613.7 1072.3,1618.6 1075.4,1619.8 1078.5,1619.2 1081.7,1621.7 1084.8,1620.3 1087.9,1623.6 1091.0,1621.5 1094.1,1623.7 1097.3,1622.9 1100.4,1623.3 1103.5,1623.3 1107.0,1620.4 1110.6,1621.2 1114.1,1616.2 1117.6,1615.1 1122.3,1608.0 1127.0,1615.1 1130.1,1616.8 1133.3,1614.5 1136.4,1617.4 1139.5,1619.5 1142.7,1618.0 1145.8,1619.8 1148.9,1622.1 1152.1,1622.3 1155.2,1623.3 1174.0,1623.3 1177.0,1623.3 1181.0,1623.3 1908.0,1623.3 1912.0,1623.3" fill="none" stroke="#cc0000" stroke-width="5.3" stroke-linejoin="round"/>
<path d="M308.0,1626.1 322.9,1626.1 325.9,1626.1 329.4,1631.4 332.9,1640.9 336.4,1654.1 340.0,1664.4 343.5,1662.9 347.0,1666.8 351.7,1678.5 356.4,1666.8 361.1,1631.5 364.2,1632.4 367.4,1628.9 370.5,1629.2 373.9,1629.7 377.2,1626.8 380.6,1628.6 383.9,1625.8 387.3,1627.5 390.6,1626.1 394.0,1626.1 398.0,1626.1 437.0,1626.1 441.0,1626.1 444.1,1627.5 447.3,1626.1 450.4,1629.2 453.5,1631.8 456.7,1629.6 459.8,1631.5 462.9,1635.2 466.1,1632.5 469.2,1636.2 472.3,1637.2 475.5,1633.6 478.6,1633.9 481.7,1636.5 484.9,1633.2 488.0,1636.2 491.1,1640.3 494.3,1638.6 497.4,1643.3 500.9,1642.6 504.5,1636.2 508.0,1638.6 511.5,1645.6 515.0,1644.5 518.6,1640.9 522.1,1639.8 525.6,1643.3 529.1,1648.5 532.7,1650.3 537.4,1662.1 540.9,1655.8 544.4,1655.0 549.1,1671.5 553.8,1650.3 558.5,1636.2 561.7,1635.7 564.8,1630.1 567.9,1629.2 571.1,1631.7 574.2,1629.3 577.3,1631.5 580.5,1632.7 583.6,1629.8 586.7,1631.5 589.9,1634.3 593.0,1631.1 596.1,1633.9 599.3,1635.1 602.4,1630.6 605.5,1631.5 608.7,1632.3 611.8,1628.5 614.9,1629.2 618.1,1631.3 621.2,1628.9 624.3,1631.5 627.5,1631.9 630.6,1629.1 633.7,1629.2 636.9,1631.5 640.0,1629.4 643.1,1631.5 646.3,1630.6 649.4,1625.5 652.5,1626.1 656.1,1635.6 659.6,1643.3 663.1,1647.6 666.6,1655.0 670.2,1666.9 673.7,1676.2 677.2,1660.6 680.7,1650.3 684.3,1643.8 687.8,1631.5 690.0,1626.1 693.5,1628.5 697.1,1636.2 700.6,1639.9 704.1,1640.9 707.6,1638.1 711.2,1640.9 714.7,1635.3 718.2,1626.1 721.7,1673.0 725.3,1725.5 728.8,1709.1 732.3,1690.3 737.0,1678.5 740.5,1669.9 744.1,1666.8 747.6,1673.8 751.1,1676.2 754.6,1666.8 758.2,1662.1 761.7,1669.2 765.2,1673.8 768.7,1661.9 772.3,1655.0 775.8,1653.9 779.3,1650.3 782.8,1641.2 786.4,1636.2 789.9,1631.6 793.4,1626.1 796.5,1625.8 799.7,1631.0 802.8,1631.5 806.3,1631.9 809.9,1636.2 813.0,1642.0 816.1,1640.7 819.3,1645.6 824.0,1664.4 827.5,1652.2 831.0,1636.2 834.5,1637.5 838.1,1643.3 841.6,1638.7 845.1,1631.5 848.2,1630.3 851.4,1633.4 854.5,1631.5 857.6,1631.1 860.8,1636.8 863.9,1636.2 867.0,1636.1 870.2,1641.6 873.3,1640.9 876.8,1653.6 880.4,1671.5 883.9,1661.0 887.4,1645.6 890.9,1643.6 894.5,1645.6 898.0,1642.4 901.5,1636.2 904.6,1637.3 907.8,1643.7 910.9,1643.3 914.4,1636.9 918.0,1636.2 921.5,1637.5 925.0,1636.2 928.2,1632.6 931.3,1634.6 934.4,1631.5 937.6,1632.5 940.7,1640.3 943.8,1640.9 947.3,1646.2 950.9,1655.0 954.4,1658.5 957.9,1657.4 961.4,1654.5 965.0,1655.0 968.5,1652.4 972.0,1645.6 975.2,1643.6 978.3,1645.7 981.4,1643.3 984.6,1640.0 987.7,1643.0 990.8,1638.6 994.0,1636.5 997.1,1639.2 1000.2,1636.2 1003.4,1632.8 1006.5,1633.8 1009.6,1629.2 1012.8,1626.9 1015.9,1626.9 1019.0,1626.1 1042.5,1626.1 1066.0,1626.1 1069.2,1626.1 1072.3,1627.0 1075.4,1626.1 1078.5,1627.7 1081.6,1625.4 1084.8,1627.7 1087.9,1626.3 1091.0,1628.8 1094.1,1626.4 1097.3,1629.2 1100.4,1627.9 1103.5,1629.2 1106.9,1630.7 1110.2,1628.4 1113.6,1630.8 1116.9,1628.2 1120.3,1630.4 1123.6,1627.9 1127.0,1629.2 1130.1,1632.7 1133.3,1631.4 1136.4,1633.9 1139.9,1638.6 1143.5,1638.6 1147.0,1633.7 1150.5,1631.5 1154.0,1632.5 1157.6,1629.6 1161.1,1631.4 1164.6,1629.2 1168.1,1627.2 1171.7,1627.8 1175.2,1625.1 1178.7,1626.1 1181.8,1627.2 1185.0,1626.7 1188.1,1629.2 1191.2,1631.8 1194.4,1629.3 1197.5,1631.5 1200.6,1632.7 1203.8,1629.6 1206.9,1631.5 1210.0,1633.4 1213.2,1632.0 1216.3,1633.9 1219.4,1635.9 1222.6,1631.8 1225.7,1633.9 1228.8,1636.6 1232.0,1633.1 1235.1,1636.2 1238.2,1636.5 1241.4,1632.4 1244.5,1633.9 1247.6,1636.6 1250.8,1633.5 1253.9,1636.2 1257.0,1637.6 1260.2,1633.6 1263.3,1633.9 1266.4,1634.2 1269.6,1631.3 1272.7,1631.5 1275.8,1632.8 1279.0,1630.1 1282.1,1631.5 1285.2,1632.9 1288.4,1630.4 1291.5,1631.5 1294.6,1635.1 1297.8,1632.5 1300.9,1636.2 1305.6,1643.3 1309.1,1643.5 1312.7,1638.6 1316.2,1638.5 1319.7,1640.9 1323.2,1640.0 1326.8,1636.2 1330.3,1631.4 1333.8,1629.2 1337.0,1628.6 1340.1,1625.0 1343.2,1626.1 1346.4,1627.9 1349.5,1627.8 1352.6,1631.5 1356.1,1639.2 1359.7,1643.3 1363.2,1637.9 1366.7,1636.2 1369.9,1635.8 1373.0,1629.2 1376.1,1629.2 1379.6,1627.8 1383.2,1626.1 1387.2,1626.1 1481.9,1626.1 1485.9,1626.1 1489.0,1624.7 1492.2,1628.6 1495.4,1627.1 1498.6,1629.8 1501.7,1630.2 1504.9,1629.5 1508.1,1632.4 1511.2,1629.4 1514.4,1633.1 1517.6,1631.5 1520.8,1630.4 1523.9,1632.9 1527.1,1631.1 1530.3,1634.3 1533.5,1632.9 1536.8,1630.9 1540.1,1632.5 1543.4,1629.6 1546.7,1630.2 1550.0,1630.0 1553.3,1626.4 1556.6,1627.2 1559.9,1626.1 1562.9,1626.1 1566.9,1626.1 1908.0,1626.1 1912.0,1626.1" fill="none" stroke="#009600" stroke-width="5.3" stroke-linejoin="round"/>
<path d="M309.4,1623.3 312.9,1606.6 316.5,1593.9 320.0,1591.8 323.5,1584.5 326.6,1579.3 329.8,1579.5 332.9,1572.8 337.6,1589.2 342.3,1612.7 347.0,1617.4 350.1,1617.2 353.3,1620.1 356.4,1619.8 359.9,1619.5 363.5,1623.3 367.0,1622.0 370.5,1623.3 374.5,1623.3 437.0,1623.3 441.0,1623.3 444.1,1623.9 447.3,1619.8 450.4,1619.8 453.5,1619.3 456.7,1615.6 459.8,1615.1 462.9,1615.3 466.1,1610.3 469.2,1610.4 472.3,1613.8 475.5,1611.0 478.6,1615.1 481.7,1614.4 484.9,1607.6 488.0,1605.7 491.5,1611.0 495.1,1612.7 498.6,1607.0 502.1,1605.7 505.6,1611.3 509.2,1612.7 512.7,1608.0 516.2,1608.0 519.7,1607.7 523.3,1603.3 528.0,1593.9 531.5,1591.4 535.0,1591.6 539.7,1582.2 544.4,1591.6 549.1,1608.0 552.3,1612.7 555.4,1611.7 558.5,1617.4 561.7,1619.4 564.8,1617.3 567.9,1619.8 571.4,1619.6 575.0,1615.1 578.5,1615.7 582.0,1619.8 585.2,1620.5 588.3,1616.7 591.4,1617.4 594.6,1617.9 597.7,1613.8 600.8,1615.1 604.0,1617.3 607.1,1614.6 610.2,1617.4 613.4,1617.9 616.5,1613.9 619.6,1615.1 622.8,1617.7 625.9,1615.0 629.0,1617.4 632.2,1619.5 635.3,1618.0 638.4,1619.8 641.6,1621.2 644.7,1618.7 647.8,1619.8 651.4,1609.2 654.9,1593.9 658.0,1590.1 661.1,1590.6 664.3,1586.9 667.4,1587.0 670.5,1592.7 673.7,1591.6 678.4,1612.7 681.9,1617.5 685.4,1623.3 690.0,1612.7 693.1,1614.4 696.3,1609.5 699.4,1610.4 702.5,1613.9 705.7,1611.9 708.8,1615.1 712.3,1578.6 715.9,1537.5 720.6,1535.2 725.3,1561.0 728.8,1566.7 732.3,1575.1 735.8,1577.0 739.4,1575.1 742.9,1569.9 746.4,1570.4 751.1,1593.9 754.6,1586.0 758.2,1575.1 761.7,1579.8 765.2,1589.2 768.7,1592.2 772.3,1591.6 775.8,1596.9 779.3,1605.7 784.0,1619.8 787.1,1619.1 790.3,1615.7 793.4,1615.1 796.5,1613.3 799.7,1603.0 802.8,1601.0 806.3,1607.1 809.9,1608.0 814.6,1582.2 818.1,1596.0 821.6,1615.1 824.7,1608.6 827.9,1594.8 831.0,1586.9 834.5,1603.2 838.1,1615.1 841.6,1608.3 845.1,1605.7 848.6,1612.6 852.2,1615.1 855.7,1605.1 859.2,1601.0 862.7,1595.3 866.3,1584.5 869.8,1595.7 873.3,1612.7 876.8,1609.4 880.4,1603.3 883.9,1608.0 887.4,1617.4 890.5,1615.1 893.7,1605.5 896.8,1603.3 900.3,1610.3 903.9,1612.7 907.4,1607.8 910.9,1608.0 914.4,1613.2 918.0,1615.1 921.5,1614.2 925.0,1617.4 928.5,1614.6 932.1,1608.0 935.6,1604.6 939.1,1605.7 943.8,1589.2 947.3,1597.9 950.9,1601.0 954.4,1593.8 957.9,1591.6 961.4,1599.2 965.0,1603.3 968.5,1604.0 972.0,1608.0 975.5,1608.6 979.1,1605.7 982.6,1601.0 986.1,1601.0 990.8,1596.3 995.5,1617.4 998.7,1620.1 1001.8,1617.2 1004.9,1619.8 1008.4,1620.8 1012.0,1618.7 1015.5,1621.3 1019.0,1619.8 1022.4,1618.8 1025.7,1620.9 1029.1,1619.1 1032.5,1620.6 1035.8,1618.5 1039.2,1621.1 1042.5,1619.8 1045.9,1618.5 1049.2,1620.8 1052.6,1618.1 1056.0,1621.1 1059.3,1618.9 1062.7,1620.5 1066.0,1619.8 1069.2,1618.5 1072.3,1622.3 1075.4,1619.4 1078.5,1622.7 1081.6,1620.8 1084.8,1623.0 1087.9,1621.7 1091.0,1624.0 1094.1,1621.8 1097.3,1623.3 1100.4,1622.8 1103.5,1623.3 1107.4,1623.9 1111.3,1620.5 1115.3,1619.8 1118.8,1618.7 1122.3,1615.1 1125.4,1614.5 1128.6,1619.3 1131.7,1619.8 1134.8,1618.3 1138.0,1621.1 1141.1,1619.8 1144.2,1618.5 1147.4,1621.4 1150.5,1619.8 1154.0,1620.1 1157.6,1623.4 1161.1,1622.6 1164.6,1623.3 1178.7,1623.3 1182.2,1620.9 1185.8,1615.1 1191.6,1610.4 1197.5,1617.4 1201.0,1617.8 1204.6,1619.8 1208.1,1617.7 1211.6,1612.7 1215.1,1613.9 1218.7,1617.4 1222.2,1619.4 1225.7,1619.8 1230.4,1612.7 1233.9,1612.7 1237.5,1617.4 1241.0,1619.7 1244.5,1619.8 1247.6,1618.2 1250.8,1621.2 1253.9,1619.8 1257.0,1618.3 1260.2,1621.1 1263.3,1619.8 1266.8,1615.3 1270.4,1615.1 1273.9,1616.1 1277.4,1612.7 1280.9,1613.1 1284.5,1617.4 1288.0,1618.8 1291.5,1617.4 1294.6,1614.9 1297.8,1617.7 1300.9,1615.1 1305.6,1603.3 1311.5,1593.9 1317.4,1610.4 1320.9,1612.0 1324.4,1617.4 1327.6,1621.2 1330.7,1621.3 1333.8,1623.3 1337.8,1623.3 1481.9,1623.3 1485.9,1623.3 1489.0,1623.3 1492.2,1621.5 1495.4,1622.4 1498.6,1619.8 1501.7,1619.6 1505.3,1620.6 1508.8,1616.8 1512.3,1617.0 1515.8,1617.9 1519.4,1614.4 1522.9,1615.7 1526.4,1618.5 1529.9,1616.2 1533.5,1618.3 1537.0,1619.9 1540.5,1618.0 1544.0,1619.6 1547.2,1621.4 1550.4,1620.1 1553.6,1623.4 1556.7,1622.0 1559.9,1623.3 1562.9,1623.3 1566.9,1623.3 1908.0,1623.3 1912.0,1623.3" fill="none" stroke="#009600" stroke-width="5.3" stroke-linejoin="round"/>
</g>
<line x1="304" y1="1624.7" x2="1916" y2="1624.7" stroke="#000" stroke-width="3.2"/>
<g clip-path="url(#clp4)">
<path d="M308.0,2055.9 312.0,2055.9 683.0,2055.9 687.0,2055.9 690.0,2055.9 694.0,2055.9 850.5,2055.9 854.5,2055.9 858.0,2055.9 861.6,2057.7 865.1,2057.0 868.6,2059.2 871.7,2061.0 874.9,2059.3 878.0,2061.5 882.7,2066.2 885.8,2067.7 889.0,2063.5 892.1,2063.9 895.2,2064.7 898.4,2060.5 901.5,2061.5 904.6,2061.7 907.8,2059.1 910.9,2059.2 914.1,2060.4 917.2,2057.7 920.3,2059.2 923.8,2060.7 927.4,2057.8 930.9,2060.2 934.4,2059.2 937.6,2058.7 940.7,2062.1 943.8,2061.5 948.5,2066.2 952.0,2062.8 955.6,2063.9 959.1,2063.9 962.6,2061.5 965.8,2060.4 968.9,2063.0 972.0,2061.5 975.5,2059.7 979.1,2062.5 982.6,2060.7 986.1,2061.5 989.6,2061.8 993.2,2058.9 996.7,2061.2 1000.2,2059.2 1003.4,2058.3 1006.5,2060.0 1009.6,2059.2 1012.8,2057.9 1015.9,2060.5 1019.0,2059.2 1022.2,2059.0 1025.3,2064.1 1028.4,2063.9 1031.6,2064.3 1034.7,2068.8 1037.8,2068.6 1041.4,2067.2 1044.9,2070.9 1048.4,2077.4 1051.9,2078.0 1055.5,2072.7 1059.0,2070.9 1062.5,2081.9 1066.0,2087.4 1069.6,2078.0 1073.1,2073.3 1076.6,2079.7 1080.1,2080.3 1083.6,2071.7 1087.1,2066.2 1090.6,2067.0 1094.1,2063.9 1098.8,2070.9 1103.5,2063.9 1106.6,2061.2 1109.8,2063.8 1112.9,2061.5 1116.0,2060.6 1119.2,2062.5 1122.3,2061.5 1125.4,2059.8 1128.6,2060.8 1131.7,2059.2 1134.8,2058.3 1138.0,2060.4 1141.1,2059.2 1144.2,2056.8 1147.4,2057.5 1150.5,2055.9 1159.9,2055.9 1174.0,2055.9 1178.0,2055.9 1217.0,2055.9 1221.0,2055.9 1224.1,2055.9 1227.3,2057.5 1230.4,2055.4 1233.5,2059.0 1236.7,2056.8 1239.8,2059.2 1242.9,2061.8 1246.1,2059.3 1249.2,2061.5 1252.3,2066.4 1255.5,2065.0 1258.6,2068.6 1261.7,2072.3 1264.9,2072.0 1268.0,2075.6 1272.7,2066.2 1276.2,2074.8 1279.8,2080.3 1283.3,2071.4 1286.8,2066.2 1290.3,2066.6 1293.9,2063.9 1297.4,2067.3 1300.9,2075.6 1305.6,2089.7 1310.3,2075.6 1315.0,2080.3 1319.7,2099.1 1324.4,2082.7 1329.1,2070.9 1333.8,2055.9 1337.3,2057.1 1340.9,2056.1 1344.4,2059.1 1347.9,2059.2 1352.6,2108.5 1356.1,2188.6 1359.7,2273.0 1364.4,2132.0 1367.9,2124.5 1371.4,2113.2 1376.1,2108.5 1380.8,2055.9 1384.8,2055.9 1492.4,2055.9 1496.4,2055.9 1499.7,2054.8 1503.1,2057.8 1506.4,2056.6 1509.7,2058.6 1513.0,2058.9 1516.3,2055.4 1519.6,2057.1 1522.9,2055.9 1526.1,2055.9 1529.2,2058.0 1532.4,2057.0 1535.6,2061.5 1538.7,2061.3 1542.3,2057.9 1545.8,2057.6 1549.3,2055.9 1552.8,2054.8 1556.4,2058.3 1559.9,2058.6 1563.4,2058.6 1567.0,2064.2 1570.5,2063.9 1574.4,2066.1 1578.4,2071.9 1582.4,2066.9 1586.3,2058.6 1589.9,2057.5 1593.4,2060.0 1596.9,2058.6 1600.4,2058.5 1604.0,2063.8 1607.5,2063.9 1612.8,2071.9 1616.7,2064.9 1620.7,2061.3 1624.7,2065.4 1628.6,2066.6 1632.2,2063.5 1635.7,2066.5 1639.2,2063.9 1642.7,2063.8 1646.3,2067.3 1649.8,2066.6 1653.8,2068.9 1657.7,2074.5 1661.7,2072.9 1665.7,2066.6 1669.6,2062.9 1673.6,2061.3 1677.6,2065.3 1681.5,2066.6 1684.8,2077.1 1688.1,2090.4 1691.4,2081.9 1694.7,2069.2 1698.7,2071.5 1702.7,2079.8 1706.6,2075.4 1710.6,2066.6 1714.6,2071.3 1718.5,2079.8 1722.5,2080.0 1726.5,2074.5 1730.4,2070.5 1734.4,2069.2 1738.4,2068.2 1742.3,2063.9 1746.3,2060.7 1750.3,2061.3 1753.8,2061.2 1757.3,2057.9 1760.9,2058.6 1764.4,2060.7 1767.9,2059.6 1771.4,2061.3 1775.4,2066.7 1779.4,2069.2 1783.3,2063.5 1787.3,2061.3 1790.8,2063.5 1794.3,2061.5 1797.9,2063.9 1801.8,2066.3 1805.8,2066.6 1809.8,2069.0 1813.7,2074.5 1817.7,2081.4 1821.7,2082.4 1825.6,2075.2 1829.6,2071.9 1833.6,2075.2 1837.5,2074.5 1841.5,2075.8 1845.5,2079.8 1850.8,2085.1 1856.0,2074.5 1859.6,2076.2 1863.1,2071.6 1866.6,2074.5 1871.9,2082.4 1875.9,2080.9 1879.8,2074.5 1883.8,2069.8 1887.8,2069.2 1891.3,2068.6 1894.8,2064.0 1898.3,2063.9 1901.9,2064.0 1905.4,2059.0 1908.9,2058.6 1911.9,2055.9 1912.0,2055.9" fill="none" stroke="#0014be" stroke-width="5.3" stroke-linejoin="round"/>
<path d="M308.0,2053.1 312.0,2053.1 683.0,2053.1 687.0,2053.1 690.0,2053.1 694.0,2053.1 850.5,2053.1 854.5,2053.1 857.6,2050.3 860.8,2051.1 863.9,2047.4 867.0,2043.5 870.2,2046.1 873.3,2042.7 878.0,2038.0 882.7,2042.7 886.2,2045.1 889.8,2049.8 893.3,2050.3 896.8,2047.4 901.5,2042.7 905.0,2044.7 908.6,2049.8 912.1,2050.5 915.6,2049.8 918.8,2048.1 921.9,2050.5 925.0,2049.8 928.2,2047.6 931.3,2049.5 934.4,2047.4 939.1,2045.1 943.8,2042.7 947.0,2041.3 950.1,2045.8 953.2,2045.1 956.4,2044.7 959.5,2047.8 962.6,2047.4 965.8,2047.2 968.9,2050.4 972.0,2049.8 975.2,2048.7 978.3,2051.2 981.4,2049.8 984.9,2050.0 988.5,2053.2 992.0,2052.4 995.5,2053.1 1009.6,2053.1 1012.8,2054.0 1015.9,2048.1 1019.0,2047.4 1022.5,2043.1 1026.1,2033.3 1029.6,2024.0 1033.1,2019.2 1036.7,2029.4 1040.2,2035.7 1043.7,2022.5 1047.2,2012.2 1050.8,2026.6 1054.3,2035.7 1060.2,2026.3 1066.0,2040.4 1069.2,2038.6 1072.3,2041.5 1075.4,2040.4 1078.6,2039.8 1081.7,2043.1 1084.8,2042.7 1087.1,2042.7 1090.6,2043.1 1094.1,2047.4 1097.2,2048.6 1100.4,2044.7 1103.5,2045.1 1107.0,2048.1 1110.6,2047.4 1114.1,2047.5 1117.6,2049.8 1120.7,2051.1 1123.9,2048.2 1127.0,2049.8 1130.1,2051.1 1133.3,2048.3 1136.4,2049.8 1139.9,2049.8 1143.5,2047.4 1147.0,2047.8 1150.5,2049.8 1153.6,2052.5 1156.8,2051.7 1159.9,2053.1 1174.0,2053.1 1188.1,2053.1 1202.2,2053.1 1216.3,2053.1 1219.4,2051.8 1222.6,2045.1 1225.7,2042.7 1230.4,2038.0 1233.9,2040.9 1237.5,2040.4 1242.2,2023.9 1246.9,2038.0 1251.6,2016.9 1255.1,2023.8 1258.6,2033.3 1263.3,2042.7 1268.0,2038.0 1271.5,2012.7 1275.1,1984.0 1279.8,1981.6 1285.6,1951.1 1291.5,2014.5 1295.0,2038.0 1300.9,1911.1 1305.6,1944.0 1309.1,1991.0 1312.7,1946.4 1317.4,2014.5 1322.1,2014.5 1326.8,2028.6 1331.5,2047.4 1335.0,2053.1 1339.0,2053.1 1492.4,2053.1 1496.4,2053.1 1499.7,2052.6 1503.1,2053.7 1506.4,2050.4 1509.7,2050.7 1512.8,2051.4 1516.0,2047.8 1519.2,2050.8 1522.4,2046.8 1525.5,2048.1 1529.1,2051.7 1532.6,2050.9 1536.1,2053.1 1539.4,2054.2 1542.7,2049.7 1546.0,2050.8 1549.3,2048.1 1553.3,2045.2 1557.3,2045.4 1562.5,2038.8 1567.8,2048.1 1571.8,2052.8 1575.8,2053.1 1579.3,2052.1 1582.8,2052.9 1586.3,2050.7 1589.6,2044.2 1593.0,2040.1 1596.3,2044.0 1599.6,2045.4 1603.5,2043.4 1607.5,2044.1 1611.5,2045.2 1615.4,2042.8 1619.4,2044.7 1623.4,2050.7 1627.3,2049.8 1631.3,2045.4 1635.3,2039.0 1639.2,2036.2 1643.2,2043.0 1647.2,2044.1 1651.1,2044.8 1655.1,2048.1 1659.1,2045.2 1663.0,2037.5 1666.3,2026.2 1669.6,2017.7 1672.9,2032.8 1676.2,2042.8 1681.5,2053.1 1685.5,2036.3 1689.5,2023.0 1693.4,2035.8 1697.4,2042.8 1702.7,2040.1 1708.0,2034.8 1713.3,2048.1 1718.5,2034.8 1723.8,2042.8 1727.8,2043.2 1731.8,2048.1 1735.7,2052.8 1739.7,2053.1 1743.7,2048.8 1747.6,2046.7 1751.6,2049.1 1755.6,2048.1 1759.5,2049.9 1763.5,2053.1 1767.0,2053.0 1770.5,2047.9 1774.1,2046.7 1777.6,2047.6 1781.1,2042.8 1784.6,2042.8 1788.2,2044.5 1791.7,2039.1 1795.2,2040.1 1799.2,2040.7 1803.2,2037.5 1808.4,2026.9 1813.7,2037.5 1819.0,2042.8 1822.3,2031.7 1825.6,2023.0 1828.9,2032.1 1832.2,2037.5 1836.2,2038.7 1840.2,2042.8 1844.1,2038.5 1848.1,2029.6 1852.1,2029.4 1856.0,2034.8 1860.0,2039.0 1864.0,2037.5 1867.9,2037.9 1871.9,2042.8 1875.4,2045.2 1879.0,2043.4 1882.5,2045.4 1886.0,2048.0 1889.5,2045.6 1893.1,2048.1 1897.0,2048.5 1901.0,2045.4 1905.0,2048.6 1908.9,2053.1 1911.9,2053.1 1912.0,2053.1" fill="none" stroke="#0014be" stroke-width="5.3" stroke-linejoin="round"/>
<path d="M308.0,2055.9 312.0,2055.9 452.8,2055.9 456.8,2055.9 459.8,2055.9 462.9,2055.5 466.1,2062.5 469.2,2063.9 472.3,2062.0 475.5,2064.9 478.6,2063.9 482.1,2064.2 485.7,2068.6 489.2,2067.8 492.7,2063.9 495.8,2061.9 499.0,2063.6 502.1,2061.5 505.2,2062.5 508.4,2069.5 511.5,2070.9 514.6,2067.6 517.8,2069.2 520.9,2066.2 524.1,2064.7 527.2,2069.8 530.3,2068.6 533.8,2070.6 537.4,2078.0 540.9,2076.4 544.4,2070.9 547.9,2066.0 551.5,2066.2 555.0,2064.4 558.5,2059.2 562.4,2057.9 566.4,2060.4 570.3,2059.2 573.4,2059.5 576.5,2065.4 579.7,2066.2 583.6,2064.3 587.5,2065.6 591.4,2063.9 594.6,2061.2 597.7,2061.6 600.8,2059.2 604.0,2057.6 607.1,2060.3 610.2,2059.2 613.4,2057.7 616.5,2059.8 619.6,2059.2 622.8,2058.7 625.9,2062.5 629.0,2061.5 632.2,2060.7 635.3,2064.5 638.4,2063.9 642.0,2062.4 645.5,2063.9 649.0,2062.5 652.5,2059.2 655.7,2059.0 658.8,2061.7 661.9,2061.5 665.1,2061.6 668.2,2066.1 671.3,2066.2 674.9,2065.9 678.4,2070.9 681.9,2068.8 685.4,2063.9 690.0,2055.9 699.4,2055.9 702.5,2055.1 705.7,2058.6 708.8,2059.2 711.9,2056.8 715.1,2057.0 718.2,2055.9 721.3,2055.8 724.5,2060.5 727.6,2061.5 730.7,2059.9 733.9,2061.8 737.0,2059.2 740.1,2056.6 743.3,2057.7 746.4,2055.9 749.5,2054.7 752.7,2059.0 755.8,2059.2 758.9,2058.7 762.1,2062.6 765.2,2061.5 768.3,2061.3 771.5,2064.8 774.6,2063.9 778.1,2065.8 781.7,2070.9 785.2,2068.5 788.7,2061.5 791.8,2059.9 795.0,2062.5 798.1,2061.5 802.8,2070.9 806.3,2067.1 809.9,2066.2 813.4,2064.9 816.9,2061.5 820.4,2064.7 824.0,2070.9 827.5,2069.8 831.0,2066.2 834.1,2065.3 837.3,2070.3 840.4,2068.6 843.5,2067.6 846.7,2071.8 849.8,2070.9 852.9,2068.2 856.1,2071.0 859.2,2068.6 862.3,2067.6 865.5,2074.2 868.6,2073.3 871.7,2070.2 874.9,2071.8 878.0,2068.6 881.5,2067.5 885.1,2070.9 888.6,2077.3 892.1,2078.0 895.6,2069.7 899.2,2066.2 902.7,2069.1 906.2,2068.6 909.7,2071.5 913.3,2080.3 916.8,2079.2 920.3,2075.6 923.8,2073.1 927.4,2073.3 930.9,2077.0 934.4,2075.6 937.6,2078.4 940.7,2086.3 943.8,2089.7 947.3,2099.3 950.9,2113.2 954.4,2108.0 957.9,2096.8 961.1,2090.7 964.2,2090.8 967.3,2085.0 970.8,2093.0 974.4,2103.8 977.9,2101.6 981.4,2096.8 984.9,2089.3 988.5,2087.4 992.0,2089.5 995.5,2087.4 999.0,2077.4 1002.6,2073.3 1006.1,2068.7 1009.6,2061.5 1012.8,2060.5 1015.9,2062.3 1019.0,2061.5 1022.2,2060.9 1025.3,2064.0 1028.4,2063.9 1031.6,2062.7 1034.7,2065.2 1037.8,2063.9 1041.0,2063.3 1044.1,2066.5 1047.2,2066.2 1050.4,2064.4 1053.5,2067.0 1056.6,2063.9 1059.8,2063.4 1062.9,2067.1 1066.0,2066.2 1069.9,2063.9 1073.9,2066.4 1077.8,2063.9 1080.8,2062.8 1083.8,2064.9 1086.9,2062.6 1089.9,2065.0 1092.9,2061.3 1095.9,2064.9 1098.9,2061.2 1102.0,2064.2 1105.0,2062.1 1108.0,2064.4 1111.0,2061.3 1114.1,2064.3 1117.1,2061.2 1120.1,2064.1 1123.1,2060.6 1126.2,2064.3 1129.2,2060.9 1132.2,2063.5 1135.2,2060.1 1138.3,2063.0 1141.3,2060.8 1144.3,2062.9 1147.3,2060.6 1150.4,2063.3 1153.4,2059.5 1156.4,2062.5 1159.4,2060.2 1162.4,2062.0 1165.5,2059.8 1168.5,2061.8 1171.5,2059.4 1174.5,2062.3 1177.6,2059.4 1180.6,2061.4 1183.6,2058.6 1186.6,2061.2 1189.7,2059.1 1192.7,2061.3 1195.7,2058.6 1198.7,2060.9 1201.8,2058.4 1204.8,2060.9 1207.8,2057.8 1210.8,2061.0 1213.9,2057.4 1216.9,2061.0 1219.9,2057.4 1222.9,2060.7 1225.9,2057.6 1229.0,2060.8 1232.0,2057.1 1235.0,2060.8 1238.0,2056.8 1241.1,2060.2 1244.1,2057.2 1247.1,2060.2 1250.1,2056.8 1253.2,2059.1 1256.2,2057.0 1259.2,2059.0 1262.2,2056.6 1265.3,2059.4 1268.3,2056.4 1271.3,2058.4 1274.3,2055.6 1277.4,2058.9 1280.4,2056.3 1283.4,2058.0 1286.4,2056.0 1289.4,2058.2 1292.5,2054.8 1295.5,2058.8 1298.5,2055.0 1301.5,2057.6 1304.6,2055.0 1307.6,2057.6 1310.6,2054.9 1313.6,2057.0 1316.7,2055.9 1319.7,2057.8 1322.7,2055.9 1325.7,2056.7 1328.8,2055.9 1331.8,2056.6 1334.8,2055.9 1337.8,2056.7 1340.9,2055.9 1343.9,2057.0 1346.9,2055.9 1349.9,2056.2 1352.9,2055.9 1356.0,2056.1 1359.0,2055.9 1362.0,2055.9 1365.2,2058.1 1368.3,2057.5 1371.4,2061.5 1376.1,2055.9 1379.1,2055.9 1383.1,2055.9 1908.0,2055.9 1912.0,2055.9" fill="none" stroke="#cc0000" stroke-width="5.3" stroke-linejoin="round"/>
<path d="M308.0,2053.1 312.0,2053.1 443.4,2053.1 447.4,2053.1 450.4,2053.1 453.5,2050.9 456.7,2051.6 459.8,2047.4 462.9,2043.6 466.1,2046.0 469.2,2042.7 472.3,2040.9 475.5,2043.4 478.6,2040.4 482.1,2041.0 485.7,2045.1 489.2,2049.0 492.7,2049.8 495.8,2043.5 499.0,2044.2 502.1,2038.0 505.2,2040.0 508.4,2048.5 511.5,2049.8 514.6,2046.8 517.8,2048.0 520.9,2045.1 524.1,2037.6 527.2,2037.2 530.3,2031.0 533.8,2032.8 537.4,2038.0 540.9,2044.1 544.4,2045.1 547.6,2047.3 550.7,2053.3 553.8,2053.1 557.0,2051.6 560.1,2052.4 563.2,2049.8 566.7,2046.2 570.3,2045.1 573.4,2046.9 576.5,2043.0 579.7,2045.1 582.8,2047.7 585.9,2046.7 589.1,2049.8 592.2,2052.6 595.3,2051.8 598.5,2053.1 602.4,2053.3 606.3,2048.8 610.2,2047.4 614.1,2048.8 618.1,2045.7 622.0,2047.4 625.9,2047.6 629.8,2044.7 633.7,2045.1 636.9,2048.5 640.0,2046.3 643.1,2049.8 646.3,2052.7 649.4,2052.2 652.5,2053.1 656.1,2050.6 659.6,2042.7 663.1,2037.6 666.6,2038.0 670.2,2039.8 673.7,2035.7 678.4,2049.8 682.3,2050.0 686.1,2053.6 690.0,2053.1 693.1,2051.4 696.3,2052.2 699.4,2049.8 702.5,2048.4 705.7,2051.4 708.8,2049.8 711.9,2047.4 715.1,2049.1 718.2,2047.4 721.3,2048.7 724.5,2054.0 727.6,2053.1 730.7,2052.1 733.9,2052.6 737.0,2049.8 740.9,2050.3 744.8,2053.8 748.8,2053.1 752.7,2051.6 756.6,2052.1 760.5,2049.8 763.6,2044.5 766.8,2043.7 769.9,2038.0 773.4,2037.9 777.0,2040.4 780.5,2048.6 784.0,2053.1 787.5,2044.1 791.1,2038.0 794.6,2041.6 798.1,2040.4 801.6,2041.5 805.2,2047.4 808.7,2035.9 812.2,2021.6 815.3,2029.0 818.5,2042.1 821.6,2049.8 824.7,2045.6 827.9,2046.7 831.0,2042.7 834.1,2038.4 837.3,2041.4 840.4,2038.0 843.5,2037.6 846.7,2041.9 849.8,2040.4 852.9,2038.2 856.1,2041.0 859.2,2038.0 862.3,2036.8 865.5,2042.3 868.6,2040.4 871.7,2036.6 874.9,2039.5 878.0,2035.7 882.7,2028.6 886.2,2031.6 889.8,2038.0 893.3,2039.0 896.8,2035.7 900.3,2035.2 903.9,2038.0 907.4,2039.4 910.9,2035.7 914.4,2031.2 918.0,2031.0 921.5,2035.9 925.0,2038.0 928.5,2035.2 932.1,2035.7 935.6,2025.8 939.1,2012.2 943.8,2019.2 947.3,2022.6 950.9,2031.0 954.4,2031.3 957.9,2028.6 961.4,2025.0 965.0,2026.3 968.5,2026.3 972.0,2021.6 975.5,2023.7 979.1,2028.6 982.6,2021.6 986.1,2009.8 990.8,1991.0 995.5,2014.5 1000.2,2038.0 1004.9,2045.1 1009.6,2047.4 1012.8,2047.3 1015.9,2049.9 1019.0,2049.8 1022.9,2047.5 1026.9,2049.2 1030.8,2047.4 1034.7,2044.6 1038.6,2047.3 1042.5,2045.1 1045.7,2042.9 1048.8,2045.6 1051.9,2042.7 1055.1,2042.5 1058.2,2046.3 1061.3,2045.1 1064.5,2044.9 1067.6,2047.7 1070.7,2047.4 1073.9,2045.6 1077.0,2049.0 1080.1,2047.4 1084.1,2053.1 1311.0,2053.1 1315.0,2053.1 1318.2,2051.6 1321.3,2051.4 1324.4,2048.6 1329.1,2053.1 1332.1,2053.1 1336.1,2053.1 1908.0,2053.1 1912.0,2053.1" fill="none" stroke="#cc0000" stroke-width="5.3" stroke-linejoin="round"/>
<path d="M308.0,2055.9 312.0,2055.9 434.0,2055.9 438.0,2055.9 441.0,2055.9 444.1,2055.0 447.3,2059.1 450.4,2059.2 453.5,2057.7 456.7,2060.5 459.8,2059.2 462.9,2059.0 466.1,2064.1 469.2,2063.9 472.7,2064.6 476.3,2068.6 479.8,2069.5 483.3,2066.2 486.8,2064.9 490.4,2066.2 493.9,2070.5 497.4,2070.9 500.9,2064.9 504.5,2063.9 508.0,2068.3 511.5,2068.6 514.6,2066.3 517.8,2069.5 520.9,2066.2 524.4,2065.3 528.0,2068.6 531.5,2071.9 535.0,2070.9 538.5,2068.6 542.1,2068.6 545.6,2073.1 549.1,2073.3 552.6,2066.9 556.2,2063.9 559.7,2063.2 563.2,2059.2 566.4,2058.0 569.5,2060.6 572.6,2059.2 575.8,2058.4 578.9,2062.4 582.0,2061.5 585.2,2059.6 588.3,2061.4 591.4,2059.2 594.6,2058.3 597.7,2062.4 600.8,2061.5 604.3,2062.4 607.9,2066.2 611.4,2066.0 614.9,2061.5 618.1,2059.0 621.2,2061.5 624.3,2059.2 627.5,2058.1 630.6,2062.6 633.7,2061.5 636.9,2059.4 640.0,2061.3 643.1,2059.2 646.3,2056.8 649.4,2057.6 652.5,2055.9 656.1,2059.0 659.6,2068.6 663.1,2076.5 666.6,2080.3 670.2,2082.6 673.7,2089.7 677.2,2084.0 680.7,2073.3 684.3,2063.7 687.8,2059.2 690.0,2055.9 693.1,2057.8 696.3,2057.5 699.4,2061.5 702.5,2060.6 705.7,2055.3 708.8,2055.9 718.2,2055.9 721.3,2057.1 724.5,2056.3 727.6,2059.2 730.7,2060.6 733.9,2057.9 737.0,2059.2 740.1,2060.6 743.3,2058.5 746.4,2059.2 749.9,2061.3 753.5,2061.5 757.0,2056.7 760.5,2055.9 764.0,2058.1 767.6,2059.2 771.1,2055.9 774.6,2055.9 778.1,2060.9 781.7,2063.9 785.2,2059.9 788.7,2059.2 791.8,2060.8 795.0,2059.4 798.1,2061.5 801.2,2062.5 804.4,2060.7 807.5,2061.5 810.6,2065.1 813.8,2064.7 816.9,2068.6 820.4,2077.1 824.0,2082.7 827.5,2071.7 831.0,2063.9 834.5,2074.5 838.1,2082.7 841.6,2072.4 845.1,2066.2 848.2,2066.9 851.4,2062.8 854.5,2063.9 857.6,2064.7 860.8,2061.1 863.9,2061.5 867.0,2065.3 870.2,2063.7 873.3,2066.2 876.8,2084.6 880.4,2099.1 883.9,2083.3 887.4,2070.9 890.9,2071.6 894.5,2068.6 898.0,2066.2 901.5,2066.2 904.6,2070.3 907.8,2067.6 910.9,2070.9 914.4,2072.1 918.0,2070.9 921.5,2067.6 925.0,2068.6 928.2,2069.0 931.3,2065.1 934.4,2066.2 937.6,2073.5 940.7,2074.9 943.8,2082.7 947.3,2092.6 950.9,2096.8 954.4,2088.2 957.9,2085.0 961.4,2097.5 965.0,2106.2 968.5,2098.8 972.0,2096.8 975.5,2101.5 979.1,2101.5 982.6,2092.6 986.1,2087.4 989.3,2088.0 992.4,2083.5 995.5,2085.0 998.7,2083.3 1001.8,2074.3 1004.9,2073.3 1009.6,2059.2 1012.8,2059.2 1015.9,2054.8 1019.0,2055.9 1022.9,2057.1 1026.9,2056.1 1030.8,2059.2 1034.7,2059.8 1038.6,2058.4 1042.5,2059.2 1046.4,2060.4 1050.4,2057.9 1054.3,2059.2 1058.2,2060.0 1062.1,2057.9 1066.0,2059.2 1069.9,2060.7 1073.9,2058.1 1077.8,2059.2 1081.0,2059.7 1084.2,2057.1 1087.4,2058.4 1090.6,2055.2 1093.9,2057.3 1097.1,2055.9 1100.3,2056.7 1103.5,2055.9 1107.4,2054.8 1111.3,2058.5 1115.3,2059.2 1119.2,2056.0 1123.1,2057.2 1127.0,2055.9 1130.9,2055.6 1134.8,2060.3 1138.8,2061.5 1142.7,2057.3 1146.6,2058.2 1150.5,2055.9 1154.5,2055.9 1207.6,2055.9 1211.6,2059.2 1215.1,2057.0 1218.7,2058.0 1222.2,2054.9 1225.7,2055.9 1228.8,2056.6 1232.0,2054.9 1235.1,2057.8 1238.2,2056.2 1241.4,2059.9 1244.5,2059.2 1247.9,2058.5 1251.2,2060.4 1254.6,2058.2 1257.9,2060.8 1261.3,2057.7 1264.7,2060.1 1268.0,2059.2 1271.4,2058.2 1274.7,2060.0 1278.1,2057.5 1281.4,2060.1 1284.8,2057.9 1288.2,2060.3 1291.5,2059.2 1295.0,2057.9 1298.6,2060.4 1302.1,2057.8 1305.6,2059.2 1308.8,2060.0 1311.9,2057.7 1315.0,2059.2 1318.2,2059.4 1321.3,2056.4 1324.4,2057.8 1327.6,2055.1 1330.7,2056.5 1333.8,2055.9 1350.3,2055.9 1353.4,2056.2 1356.5,2062.1 1359.7,2063.9 1362.8,2060.5 1365.9,2062.3 1369.1,2059.2 1372.2,2056.9 1375.3,2057.0 1378.5,2055.9 1381.5,2055.9 1385.5,2055.9 1908.0,2055.9 1912.0,2055.9" fill="none" stroke="#009600" stroke-width="5.3" stroke-linejoin="round"/>
<path d="M308.0,2053.1 312.0,2053.1 434.0,2053.1 438.0,2053.1 441.0,2053.1 444.1,2050.7 447.3,2051.4 450.4,2047.4 453.5,2044.8 456.7,2047.9 459.8,2045.1 462.9,2041.3 466.1,2044.4 469.2,2040.4 472.7,2040.4 476.3,2042.7 479.8,2046.7 483.3,2047.4 486.8,2038.6 490.4,2035.7 493.9,2042.7 497.4,2045.1 500.9,2038.9 504.5,2038.0 508.0,2042.9 511.5,2045.1 515.0,2040.9 518.6,2040.4 522.1,2040.8 525.6,2038.0 529.1,2035.9 532.7,2038.0 536.2,2040.1 539.7,2038.0 543.2,2039.2 546.8,2042.7 550.3,2047.5 553.8,2049.8 557.3,2051.2 560.9,2053.1 564.0,2053.1 567.1,2049.9 570.3,2049.8 573.4,2052.2 576.5,2051.5 579.7,2053.1 582.8,2053.7 585.9,2050.1 589.1,2049.8 592.2,2049.2 595.3,2045.8 598.5,2045.1 602.0,2049.4 605.5,2049.8 608.7,2048.9 611.8,2050.7 614.9,2049.8 618.4,2046.7 622.0,2047.4 625.5,2050.4 629.0,2049.8 632.2,2048.8 635.3,2051.4 638.4,2049.8 641.6,2050.1 644.7,2054.3 647.8,2053.1 651.4,2044.8 654.9,2038.0 658.8,2037.8 662.7,2029.3 666.6,2028.6 670.2,2035.1 673.7,2035.7 678.4,2053.1 681.9,2050.6 685.4,2049.8 690.0,2047.4 693.1,2049.3 696.3,2047.8 699.4,2049.8 702.5,2052.2 705.7,2052.1 708.8,2053.1 711.9,2053.7 715.1,2050.4 718.2,2049.8 721.3,2051.0 724.5,2049.1 727.6,2049.8 730.7,2052.7 733.9,2051.9 737.0,2053.1 740.1,2053.9 743.3,2049.9 746.4,2049.8 749.9,2048.9 753.5,2045.1 757.0,2046.2 760.5,2049.8 764.0,2053.3 767.6,2053.1 771.1,2046.7 774.6,2042.7 778.1,2047.3 781.7,2049.8 785.2,2050.5 788.7,2053.1 791.8,2052.2 795.0,2046.4 798.1,2045.1 801.6,2043.1 805.2,2035.7 808.7,2033.3 812.2,2033.3 816.9,2023.9 820.4,2035.9 824.0,2042.7 827.5,2029.1 831.0,2019.2 834.5,2034.4 838.1,2045.1 841.6,2042.9 845.1,2042.7 848.2,2045.3 851.4,2044.6 854.5,2047.4 858.0,2045.5 861.6,2038.0 865.1,2024.7 868.6,2014.5 872.1,2028.8 875.7,2038.0 879.2,2041.2 882.7,2049.8 886.2,2050.4 889.8,2047.4 893.3,2043.6 896.8,2042.7 900.3,2042.1 903.9,2038.0 907.4,2037.2 910.9,2040.4 914.4,2043.8 918.0,2042.7 921.5,2037.8 925.0,2035.7 928.5,2035.9 932.1,2031.0 935.6,2027.2 939.1,2028.6 943.8,2012.2 947.3,2023.1 950.9,2028.6 954.4,2013.2 957.9,2000.4 961.4,2013.9 965.0,2021.6 968.5,2015.5 972.0,2012.2 975.5,2025.7 979.1,2035.7 983.8,2028.6 987.3,2016.9 990.8,2009.8 995.5,2021.6 1000.2,2042.7 1003.4,2047.3 1006.5,2046.0 1009.6,2049.8 1012.8,2052.9 1015.9,2051.7 1019.0,2053.1 1022.2,2053.9 1025.3,2050.4 1028.4,2049.8 1031.6,2050.6 1034.7,2049.0 1037.8,2049.8 1041.0,2049.9 1044.1,2046.6 1047.2,2047.4 1050.4,2050.1 1053.5,2048.0 1056.6,2049.8 1059.8,2049.8 1062.9,2046.3 1066.0,2047.4 1069.9,2049.6 1073.9,2047.8 1077.8,2049.8 1081.0,2051.3 1084.2,2049.7 1087.4,2053.0 1090.6,2051.0 1093.9,2053.8 1097.1,2052.6 1100.3,2053.1 1103.5,2053.1 1106.8,2052.3 1110.1,2053.0 1113.4,2048.5 1116.7,2049.7 1120.0,2047.4 1123.5,2049.4 1127.0,2053.1 1150.5,2053.1 1153.6,2053.1 1156.8,2052.4 1159.9,2053.1 1163.0,2052.1 1166.2,2053.6 1169.3,2051.3 1172.4,2053.3 1175.6,2050.4 1178.7,2052.1 1181.8,2048.9 1185.0,2051.7 1188.1,2049.8 1192.8,2047.4 1195.9,2047.9 1199.1,2053.4 1202.2,2053.1 1221.0,2053.1 1244.5,2053.1 1247.9,2052.7 1251.2,2053.1 1254.6,2051.3 1257.9,2052.8 1261.3,2050.0 1264.7,2051.3 1268.0,2049.8 1271.9,2048.7 1275.8,2051.4 1279.8,2049.8 1283.7,2048.1 1287.6,2051.1 1291.5,2049.8 1295.4,2047.6 1299.3,2049.3 1303.3,2047.4 1307.4,2044.6 1311.5,2043.9 1317.4,2049.8 1320.9,2050.7 1324.4,2049.8 1327.9,2049.9 1331.5,2054.5 1335.0,2053.1 1338.0,2053.1 1342.0,2053.1 1908.0,2053.1 1912.0,2053.1" fill="none" stroke="#009600" stroke-width="5.3" stroke-linejoin="round"/>
</g>
<line x1="304" y1="2054.5" x2="1916" y2="2054.5" stroke="#000" stroke-width="3.2"/>
<line x1="1341" y1="129.5" x2="1341" y2="543.6" stroke="#000" stroke-width="5" stroke-dasharray="17.5 6.4"/>
<line x1="1341" y1="560.1" x2="1341" y2="974.2" stroke="#000" stroke-width="5" stroke-dasharray="17.5 6.4"/>
<line x1="1341" y1="990.7" x2="1341" y2="1404.8" stroke="#000" stroke-width="5" stroke-dasharray="17.5 6.4"/>
<line x1="1341" y1="1421.3" x2="1341" y2="1835.4" stroke="#000" stroke-width="5" stroke-dasharray="17.5 6.4"/>
<line x1="1341" y1="1851.9" x2="1341" y2="2266" stroke="#000" stroke-width="5" stroke-dasharray="17.5 6.4"/>
<path d="M304,117V2270M1916,117V2270M300,117H1920M300,547.6H1920M300,978.2H1920M300,1408.8H1920M300,1839.4H1920M300,2270H1920" stroke="#000" stroke-width="8" fill="none"/>
<path d="M304,183.8H328M304,331.6H328M304,479.4H328M304,257.7H317M304,405.5H317M648.9,547.6V523.6M995.2,547.6V523.6M1341.4,547.6V523.6M1687.7,547.6V523.6M475.8,547.6V534.6M822.0,547.6V534.6M1168.3,547.6V534.6M1514.5,547.6V534.6M1860.8,547.6V534.6M304,614.7H328M304,762.7H328M304,910.7H328M304,688.7H317M304,836.7H317M648.9,978.2V954.2M995.2,978.2V954.2M1341.4,978.2V954.2M1687.7,978.2V954.2M475.8,978.2V965.2M822.0,978.2V965.2M1168.3,978.2V965.2M1514.5,978.2V965.2M1860.8,978.2V965.2M304,1066.5H328M304,1193.5H328M304,1320.5H328M304,1003.0H317M304,1130.0H317M304,1257.0H317M304,1384.0H317M648.9,1408.8V1384.8M995.2,1408.8V1384.8M1341.4,1408.8V1384.8M1687.7,1408.8V1384.8M475.8,1408.8V1395.8M822.0,1408.8V1395.8M1168.3,1408.8V1395.8M1514.5,1408.8V1395.8M1860.8,1408.8V1395.8M304,1501.9H328M304,1624.7H328M304,1747.5H328M304,1440.5H317M304,1563.3H317M304,1686.1H317M304,1808.9H317M648.9,1839.4V1815.4M995.2,1839.4V1815.4M1341.4,1839.4V1815.4M1687.7,1839.4V1815.4M475.8,1839.4V1826.4M822.0,1839.4V1826.4M1168.3,1839.4V1826.4M1514.5,1839.4V1826.4M1860.8,1839.4V1826.4M304,1927.7H328M304,2054.5H328M304,2181.3H328M304,1864.3H317M304,1991.1H317M304,2117.9H317M304,2244.7H317M648.9,2270V2246M995.2,2270V2246M1341.4,2270V2246M1687.7,2270V2246M475.8,2270V2257M822.0,2270V2257M1168.3,2270V2257M1514.5,2270V2257M1860.8,2270V2257" stroke="#000" stroke-width="8" fill="none"/>
<text x="276" y="208.3" font-size="84" text-anchor="end" >0.4</text>
<text x="276" y="356.1" font-size="84" text-anchor="end" >0.0</text>
<text x="276" y="503.9" font-size="84" text-anchor="end" >0.4</text>
<text transform="translate(123.7,519.4) scale(1.136,1.25)" font-size="84">−</text>
<text x="276" y="639.2" font-size="84" text-anchor="end" >0.4</text>
<text x="276" y="787.2" font-size="84" text-anchor="end" >0.0</text>
<text x="276" y="935.2" font-size="84" text-anchor="end" >0.4</text>
<text transform="translate(123.7,950.7) scale(1.136,1.25)" font-size="84">−</text>
<text x="276" y="1091.0" font-size="84" text-anchor="end" >0.4</text>
<text x="276" y="1218.0" font-size="84" text-anchor="end" >0.0</text>
<text x="276" y="1345.0" font-size="84" text-anchor="end" >0.4</text>
<text transform="translate(123.7,1360.5) scale(1.136,1.25)" font-size="84">−</text>
<text x="276" y="1526.4" font-size="84" text-anchor="end" >0.2</text>
<text x="276" y="1649.2" font-size="84" text-anchor="end" >0.0</text>
<text x="276" y="1772.0" font-size="84" text-anchor="end" >0.2</text>
<text transform="translate(123.7,1787.5) scale(1.136,1.25)" font-size="84">−</text>
<text x="276" y="1952.2" font-size="84" text-anchor="end" >0.4</text>
<text x="276" y="2079.0" font-size="84" text-anchor="end" >0.0</text>
<text x="276" y="2205.8" font-size="84" text-anchor="end" >0.4</text>
<text transform="translate(123.7,2221.3) scale(1.136,1.25)" font-size="84">−</text>
<text x="273.8" y="2360.6" font-size="84" text-anchor="start" >15</text>
<text transform="translate(223.9,2375.8) scale(1.18,1.25)" font-size="84">−</text>
<text x="619.7" y="2360.6" font-size="84" text-anchor="start" >10</text>
<text transform="translate(569.1,2375.8) scale(1.18,1.25)" font-size="84">−</text>
<text x="986.5" y="2360.6" font-size="84" text-anchor="start" >5</text>
<text transform="translate(936.3,2375.8) scale(1.18,1.25)" font-size="84">−</text>
<text x="1320.6" y="2360.6" font-size="84" text-anchor="start" >0</text>
<text x="1666.8" y="2360.6" font-size="84" text-anchor="start" >5</text>
<text x="348.6" y="217.9" font-size="109" text-anchor="start" >(a)</text>
<text x="348.6" y="645.8" font-size="109" text-anchor="start" >(b)</text>
<text x="348.6" y="1078.4" font-size="109" text-anchor="start" >(c)</text>
<text x="348.6" y="1506.9" font-size="109" text-anchor="start" >(d)</text>
<text x="348.6" y="1940.8" font-size="109" text-anchor="start" >(e)</text>
<text x="1792.3" y="195.4" font-size="77.5" text-anchor="start" >N</text>
<text x="1848" y="217.1" font-size="53.5" text-anchor="start" >17</text>
<text x="1792" y="620.8" font-size="77.5" text-anchor="start" >N</text>
<text x="1848.2" y="642.3" font-size="53.5" text-anchor="start" >18</text>
<text x="1789.3" y="1056.6" font-size="77.5" text-anchor="start" >N</text>
<text x="1843.4" y="1075.8" font-size="53.5" text-anchor="start" >19</text>
<text x="1808.8" y="1484.3" font-size="77.5" text-anchor="start" >C</text>
<text x="1864.9" y="1502.5" font-size="46.5" text-anchor="start" >N</text>
<text x="1811.5" y="1915.5" font-size="77.5" text-anchor="start" >C</text>
<text x="1867" y="1932.3" font-size="46" text-anchor="start" >C</text>
<text x="0" y="0" font-size="81" text-anchor="middle" transform="translate(82,1267) rotate(-90)">DOS (states/eV)</text>
<text x="688" y="2451" font-size="90.5" text-anchor="start" >Energy (eV)</text>
<text x="1204" y="2436" font-size="91" text-anchor="start" >nobonding</text>
<line x1="549" y1="64.8" x2="661" y2="64.8" stroke="#009600" stroke-width="5.5"/>
<text x="667.9" y="81.1" font-size="85">2<tspan font-style="italic">p</tspan><tspan font-size="60" dy="12.5">x</tspan></text>
<line x1="945" y1="64.8" x2="1057.5" y2="64.8" stroke="#cc0000" stroke-width="5.5"/>
<text x="1064.6" y="81.1" font-size="85">2<tspan font-style="italic">p</tspan><tspan font-size="60" dy="12.5">y</tspan></text>
<line x1="1351" y1="69" x2="1464" y2="69" stroke="#0014be" stroke-width="5.5"/>
<text x="1459.4" y="85" font-size="85">2<tspan font-style="italic">p</tspan><tspan font-size="60" dy="12.5">z</tspan></text>
<text x="717" y="2194.6" font-size="76" text-anchor="start" >σ</text>
<text x="761" y="2217.2" font-size="48" text-anchor="start" >1</text>
<text x="858" y="2194.6" font-size="76" text-anchor="start" >σ</text>
<text x="903.8" y="2217.2" font-size="48" text-anchor="start" >2</text>
<text x="1024.6" y="2196.6" font-size="80" text-anchor="start" font-style="italic">π</text>
<text x="1070" y="2217.2" font-size="48" text-anchor="start" >2</text>
<text x="1110" y="2196.6" font-size="80" text-anchor="start" font-style="italic">π</text>
<text x="1153.5" y="2217.2" font-size="48" text-anchor="start" >1</text>
<text x="1502.3" y="2196.6" font-size="80" text-anchor="start" font-style="italic">π</text>
<text x="1547" y="2217.2" font-size="48" text-anchor="start" >1</text>
<text x="1547.8" y="2167.5" font-size="48" text-anchor="start" style="font-weight:normal">*</text>
<text x="1629" y="2196.6" font-size="80" text-anchor="start" font-style="italic">π</text>
<text x="1673" y="2217.2" font-size="48" text-anchor="start" >2</text>
<text x="1674.5" y="2168" font-size="48" text-anchor="start" style="font-weight:normal">*</text>
<text x="1795" y="2208.2" font-size="76" text-anchor="start" >σ</text>
<text x="1841" y="2169" font-size="48" text-anchor="start" style="font-weight:normal">*</text>
<defs><linearGradient id="ag" gradientUnits="userSpaceOnUse" x1="0" y1="2203" x2="0" y2="2366"><stop offset="0" stop-color="#e0650f"/><stop offset="0.2" stop-color="#e27a36"/><stop offset="0.47" stop-color="#e69b68"/><stop offset="0.66" stop-color="#ebb592"/><stop offset="0.84" stop-color="#f1d2bd"/><stop offset="1" stop-color="#f8e8de"/></linearGradient></defs>
<path d="M1266.4,2139.2 L1297.3,2203.3 L1283,2203.3 L1277.8,2267 L1273,2324.6 L1266.2,2364 L1263.2,2364 L1259,2324.6 L1255,2267 L1251.5,2203.3 L1235.5,2203.3 Z" fill="url(#ag)"/>
<path d="M1266.4,2139.2 L1297.3,2203.3 L1235.5,2203.3 Z" fill="#e0650f"/>
<ellipse cx="0" cy="0" rx="129.25" ry="57.2" fill="none" stroke="#e0650f" stroke-width="7.7" transform="translate(1428,2418) scale(2,1)"/>
</svg></body></html>
